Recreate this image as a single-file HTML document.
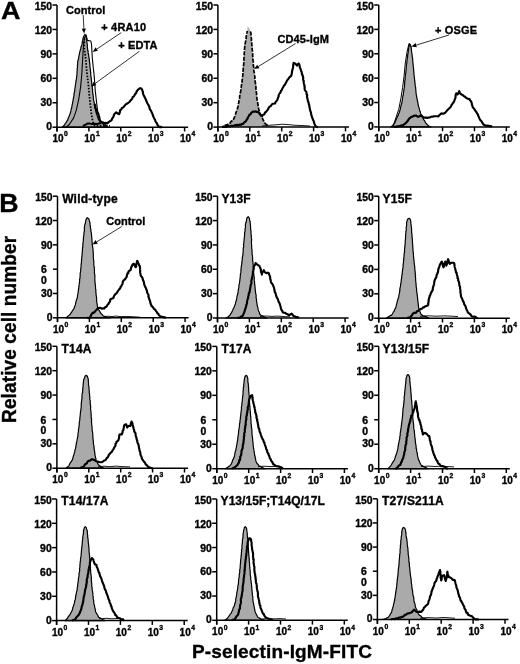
<!DOCTYPE html>
<html><head><meta charset="utf-8"><style>
html,body{margin:0;padding:0;background:#fff;}
body{width:520px;height:664px;overflow:hidden;}
svg{display:block;will-change:transform;}
text{font-family:"Liberation Sans",sans-serif;font-weight:bold;fill:#000;stroke:#000;stroke-width:0.35px;}
.t{font-size:10px;}
.s{font-size:6.8px;}
.lab{font-size:11px;}
.ttl{font-size:12px;letter-spacing:0.2px;}
</style></head><body>
<svg width="520" height="664" viewBox="0 0 520 664">
<polygon points="62.0,127.2 64.3,125.3 64.9,124.1 65.5,123.3 66.3,122.1 67.0,120.8 67.7,120.0 68.1,118.6 68.4,117.5 69.1,116.6 69.3,115.3 69.9,114.6 70.1,113.5 70.6,112.3 70.7,111.6 71.0,110.4 71.2,108.8 71.7,107.9 71.8,106.7 72.0,105.9 72.1,104.8 72.5,103.7 72.6,102.2 72.9,101.5 73.1,100.1 73.2,99.0 73.5,98.1 73.7,96.6 74.0,95.6 73.9,94.6 74.1,93.6 74.4,92.1 74.7,90.9 74.7,89.5 75.0,88.2 75.1,87.6 75.2,86.5 75.4,85.2 75.6,83.9 75.9,82.9 75.9,81.5 76.2,80.2 76.4,78.6 76.7,77.7 76.6,76.5 76.9,75.0 77.0,73.8 77.0,72.4 77.0,71.3 77.3,70.1 77.1,69.0 77.3,68.1 77.5,66.8 77.4,65.3 77.7,64.4 77.7,63.4 77.7,61.9 77.9,60.6 78.4,59.5 78.4,58.8 78.8,57.3 78.9,55.9 79.3,54.7 79.4,53.7 79.7,52.1 80.0,51.2 80.3,50.0 80.7,49.4 80.9,48.0 81.0,47.0 81.5,45.8 81.8,45.0 82.1,43.9 82.2,42.5 82.5,41.2 82.7,40.4 82.9,39.0 83.2,38.0 83.5,37.0 84.0,36.0 84.9,34.3 85.8,35.5 85.9,36.3 86.3,37.5 86.7,38.5 86.8,40.0 86.8,41.2 86.9,42.1 87.0,43.3 87.4,44.8 87.3,45.7 87.3,46.6 87.5,48.0 87.6,49.0 87.7,50.5 88.2,51.0 88.0,52.5 88.2,53.6 88.7,54.7 88.7,56.0 88.8,56.7 89.0,58.0 89.2,58.9 89.4,60.2 89.3,61.2 89.7,62.7 89.8,63.8 89.9,64.9 89.9,65.6 89.9,66.8 90.2,68.0 90.2,68.8 90.5,70.2 90.5,71.8 90.8,73.0 90.7,74.2 90.8,75.0 90.8,75.9 91.0,77.1 91.3,78.5 91.3,79.8 91.5,80.8 91.6,81.6 91.7,83.0 91.9,84.4 91.9,85.5 92.2,86.2 92.3,87.5 92.3,89.0 92.6,89.8 92.6,91.0 92.6,92.3 92.7,93.0 93.1,94.7 93.2,95.3 93.3,97.0 93.4,97.6 93.3,98.6 93.6,100.0 93.9,101.5 94.2,102.3 94.3,103.4 94.3,104.8 94.5,105.5 94.8,106.7 95.0,108.0 95.3,109.0 95.7,110.1 95.9,111.5 96.3,112.9 96.5,114.0 97.1,115.3 97.5,116.7 98.0,118.1 98.4,119.2 99.1,120.2 99.9,121.0 100.4,122.4 101.7,122.6 103.0,123.5 104.2,123.8 108.0,127.2" fill="#aaaaaa" stroke="#000" stroke-width="1.2" stroke-linejoin="round"/>
<polyline points="66.0,127.2 69.1,124.8 73.5,118.1 76.3,110.4 78.8,98.8 80.7,86.3 81.8,74.0 82.6,60.0 83.5,45.0 84.5,38.0 86.2,35.0 87.3,40.4 90.8,41.0 91.5,44.0 92.3,58.0 93.2,67.0 94.1,75.0 95.3,91.0 96.3,100.0 97.3,108.5 98.5,116.2 100.4,121.0 103.0,124.0 106.0,127.2" fill="none" stroke="#000" stroke-width="1.1" stroke-linejoin="round"/>
<polyline points="84.5,38.5 84.2,47.3 85.4,55.8 86.2,65.0 86.9,72.7 88.4,84.4 89.3,95.0 90.3,104.6 91.3,113.3 92.5,120.0 93.5,123.5 95.0,125.6 110.0,125.8" fill="none" stroke="#000" stroke-width="1.8" stroke-linejoin="round" stroke-dasharray="1.6,1.5"/>
<polyline points="83.0,126.2 84.2,125.3 85.6,124.8 86.7,124.0 87.8,123.4 88.8,123.5 90.0,123.6 91.3,123.9 92.6,123.8 93.7,124.2 95.0,123.8 96.3,123.9 97.8,123.7 99.0,123.6 100.3,123.0 101.5,122.5" fill="none" stroke="#000" stroke-width="2.0" stroke-linejoin="round"/>
<polyline points="94.5,104.0 95.1,105.2 95.4,106.7 95.4,108.1 96.1,108.9 96.2,110.1 96.5,111.6 97.2,111.8 97.6,112.9 98.4,114.0 98.8,115.5 99.3,117.1 99.4,117.8 99.5,119.5 100.0,120.6 101.1,121.7 101.5,122.2 103.1,122.4 104.2,123.2 105.6,122.9 107.1,123.3 108.3,122.5 109.4,121.4 110.4,121.0 111.6,120.2 112.0,118.9 112.3,118.4 113.1,117.3 113.6,116.2 114.2,114.3 115.0,113.5 116.2,112.3 117.2,113.2 118.1,113.8 119.2,114.2 119.7,112.4 120.0,111.9 120.0,110.3 121.2,109.6 121.8,108.2 122.6,107.7 123.5,107.3 124.5,105.7 125.2,105.1 126.2,104.0 127.8,103.3 128.7,102.5 129.4,102.0 130.6,100.4 131.2,99.9 132.2,98.8 132.7,97.1 133.8,96.4 134.4,95.5 135.3,93.8 135.9,93.3 136.4,92.1 137.5,90.3 138.2,89.5 139.7,88.4 140.8,88.2 142.1,89.5 142.4,90.7 143.0,92.0 142.9,92.9 143.3,94.4 143.8,95.6 144.2,96.2 144.7,97.3 145.3,98.6 146.0,99.9 146.4,101.2 146.8,102.0 147.2,102.9 147.7,103.8 148.5,105.1 149.0,106.4 149.4,106.8 149.6,108.7 150.2,109.6 150.7,110.3 151.3,111.3 151.6,112.3 152.3,113.6 152.6,114.3 152.9,115.5 153.5,116.9 153.9,117.8 154.3,118.6 155.1,119.8 155.5,121.5 156.0,122.3 157.0,123.2 157.5,125.1 158.1,125.8 159.8,127.1 160.8,126.9 162.0,127.2" fill="none" stroke="#000" stroke-width="2.15" stroke-linejoin="round"/>
<polygon points="222.0,127.1 224.6,125.7 225.7,125.1 226.9,124.6 228.2,124.3 229.2,124.0 230.0,123.5 230.9,122.1 231.4,121.3 232.2,120.2 233.0,119.6 233.8,118.8 234.2,117.4 234.6,116.2 235.1,115.1 235.4,113.9 235.9,112.9 236.4,112.0 236.9,110.9 237.3,109.6 237.7,108.6 237.7,107.2 237.9,106.5 238.3,105.2 238.6,103.5 238.7,103.0 239.0,101.7 239.1,100.1 239.5,99.3 239.6,98.1 239.9,97.2 240.1,95.8 240.2,94.7 240.1,93.3 240.4,92.0 240.7,90.9 240.8,90.0 241.0,88.9 241.0,87.7 241.3,86.5 241.6,85.5 241.7,84.0 241.7,82.9 241.9,81.7 242.1,80.0 242.2,79.2 242.5,77.8 242.8,76.8 242.7,75.4 242.9,74.2 242.9,73.2 242.9,71.9 243.0,70.4 243.1,69.6 243.1,68.2 243.4,67.0 243.4,65.5 243.6,64.7 243.6,63.5 243.7,62.2 243.7,60.9 243.8,60.0 244.1,58.9 244.0,57.0 244.1,56.1 244.3,55.2 244.2,53.8 244.5,52.5 244.4,51.4 244.5,50.2 244.4,49.7 244.6,48.4 244.7,47.1 244.9,46.2 245.2,44.7 245.1,43.7 245.4,42.3 245.5,41.4 245.7,40.1 246.0,39.1 246.1,38.1 246.4,36.6 246.3,36.0 246.7,34.8 246.8,33.6 247.0,32.1 247.2,31.0 247.4,30.2 247.5,28.7 247.6,27.5 247.9,26.5 248.8,28.0 249.4,28.9 249.9,30.2 250.2,31.5 250.5,32.4 251.0,33.6 251.0,34.7 251.3,35.8 251.4,37.2 251.5,38.2 251.5,39.5 251.4,40.5 251.6,41.6 251.7,42.6 251.8,43.9 251.7,44.7 251.8,46.3 252.0,47.1 252.2,48.1 252.1,49.7 252.2,50.6 252.4,51.6 252.5,52.8 252.5,53.6 252.8,54.8 252.7,56.1 253.0,57.6 252.8,58.4 252.9,59.3 253.1,60.7 253.0,61.7 253.2,62.8 253.5,64.1 253.4,65.4 253.5,66.3 253.5,67.4 253.5,68.3 253.7,69.7 253.8,71.4 254.2,72.4 254.3,73.9 254.6,75.0 254.6,76.0 254.8,77.2 255.1,78.8 254.9,79.9 255.3,80.4 255.3,82.2 255.3,83.1 255.7,84.1 255.8,85.6 255.8,86.5 255.8,88.0 255.9,88.5 256.2,90.0 256.3,91.4 256.4,92.4 256.5,93.4 256.7,94.3 256.8,95.6 256.7,97.0 256.9,98.1 257.0,99.0 257.3,100.5 257.3,101.3 257.7,102.7 257.7,103.7 257.9,105.0 258.2,106.0 258.5,107.6 258.6,108.4 259.0,109.8 259.2,110.5 259.8,112.2 259.9,112.9 260.4,114.2 261.0,115.3 261.5,116.4 262.3,117.8 262.7,118.8 263.1,119.8 263.8,121.0 264.3,122.4 265.0,123.4 266.2,124.4 267.2,124.9 268.4,125.7 269.5,126.1 270.6,126.1 271.9,125.8 273.2,125.9 274.0,126.1 275.3,126.2 278.0,127.1" fill="#aaaaaa" stroke="none" stroke-linejoin="round"/>
<polyline points="224.6,125.7 225.7,125.1 227.0,124.9 228.0,124.2 229.2,124.0 230.1,123.0 230.6,122.1 231.5,121.1 232.4,120.8 233.2,119.8 233.8,118.8 234.2,117.9 234.8,116.3 235.0,115.5 235.5,114.3 235.9,113.0 236.3,111.7 236.8,110.6 237.3,109.6 237.4,108.7 237.7,107.6 238.1,106.1 238.2,105.2 238.4,103.6 238.8,102.6 238.9,101.4 239.0,100.6 239.5,99.2 239.6,98.1 239.6,97.1 239.8,95.5 240.0,94.9 240.4,93.6 240.4,92.2 240.7,91.4 240.9,89.8 240.9,88.7 241.2,87.4 241.3,86.5 241.5,85.5 241.5,84.3 241.8,82.6 242.1,81.8 242.1,80.2 242.3,79.0 242.5,77.8 242.5,76.9 242.8,75.6 242.9,74.4 242.8,73.1 243.0,71.7 243.0,70.8 243.3,69.2 243.2,68.0 243.4,67.0 243.5,65.5 243.7,64.5 243.8,63.6 243.6,62.0 243.8,60.7 243.9,59.9 243.9,58.4 244.1,57.4 244.1,56.1 244.3,55.1 244.1,53.9 244.3,52.9 244.4,51.6 244.4,50.6 244.5,49.2 244.7,48.0 244.7,47.1 244.8,46.0 245.2,44.8 245.1,43.7 245.4,42.8 245.5,41.8 245.8,40.3 246.0,39.4 246.1,38.1 246.2,36.6 246.4,35.5 246.7,34.8 246.8,33.6 247.0,32.4 247.2,31.0" fill="none" stroke="#000" stroke-width="1.7" stroke-dasharray="4.2,1.3"/>
<polyline points="250.2,31.5 250.7,32.4 251.0,33.6 251.0,35.0 251.2,35.9 251.2,36.8 251.3,37.9 251.5,39.1 251.4,40.4 251.6,41.2 251.7,42.6 251.7,43.8 251.8,44.7 252.0,46.2 251.9,46.8 252.2,48.2 252.1,49.4 252.4,50.3 252.4,51.6 252.4,52.7 252.7,53.8 252.7,54.9 252.7,56.1 253.0,57.5 252.8,58.3 252.9,59.7 253.1,60.7 253.3,61.5 253.3,62.9 253.4,64.0 253.3,65.2 253.5,66.0 253.7,67.5 253.7,68.3 253.7,69.7 253.9,70.9 254.1,72.1 254.5,73.7 254.6,75.0 254.7,75.9 255.0,77.5 254.8,78.3 255.2,79.9 255.1,80.7 255.3,82.2 255.5,83.3 255.5,84.4 255.6,85.5 255.8,86.5 256.0,87.6 255.9,89.0 256.1,89.8 256.2,91.2 256.3,92.1 256.6,93.6 256.6,94.3 256.5,95.9 256.7,97.1 256.9,98.1 257.1,99.3 257.2,100.5 257.5,101.5 257.7,102.6 257.8,103.8 258.1,104.7 258.1,106.1 258.5,107.4 258.6,108.4 258.9,109.5 259.2,110.7 259.7,111.7 260.0,112.8 260.4,114.2 260.8,115.4 261.4,116.6 262.2,117.8 262.7,118.8 263.1,120.0 263.8,121.1 264.3,122.5 265.0,123.4 266.3,124.4 267.4,125.1 268.4,125.7" fill="none" stroke="#000" stroke-width="1.7" stroke-dasharray="4.2,1.3"/>
<polyline points="262.0,126.0 270.0,125.2 276.0,124.8 282.0,124.2 288.0,124.6 294.0,125.2 303.0,125.6 310.0,126.0" fill="none" stroke="#000" stroke-width="0.9" stroke-linejoin="round"/>
<polyline points="222.0,127.1 223.5,126.6 224.6,126.7 225.4,127.0 227.0,126.7 227.9,125.7 228.9,126.3 230.2,126.3 231.5,125.7 232.5,126.0 234.1,125.5 234.9,125.1 236.1,125.4 237.2,124.8 238.5,125.2 239.9,124.5 241.0,124.8 242.1,123.9 243.1,124.0 244.0,122.6 244.7,122.1 245.7,121.4 246.5,120.0 247.3,119.0 247.9,117.5 248.2,117.0 248.7,116.2 249.4,114.8 250.4,114.4 251.5,112.7 252.3,111.9 253.3,111.6 254.4,111.8 255.8,111.3 256.8,112.0 258.1,111.9 259.2,113.2 259.8,114.2 261.0,115.2 262.1,116.0 263.0,114.9 264.4,114.2 265.1,112.5 266.1,111.9 266.8,110.9 267.9,109.6 268.4,108.4 269.4,106.8 270.7,106.1 271.2,105.5 272.2,104.0 273.1,103.8 275.0,103.5 275.7,101.9 276.6,100.9 277.3,100.1 277.5,99.1 278.0,98.0 278.6,96.3 278.6,95.4 279.2,94.1 279.5,93.4 280.4,92.7 280.9,91.0 281.8,90.0 282.4,88.3 282.8,87.8 283.4,86.8 284.0,85.5 284.9,84.8 285.8,83.0 286.3,82.1 287.1,80.5 287.6,79.7 288.5,78.7 289.4,77.4 290.0,76.5 290.5,76.6 291.4,75.3 291.7,73.8 291.9,73.1 291.9,72.3 292.2,70.6 292.5,69.7 292.9,68.1 293.0,67.7 293.2,65.8 293.2,65.4 293.4,64.3 293.6,62.9 295.3,63.5 295.9,64.3 297.0,65.7 297.6,64.3 298.7,63.5 299.3,64.6 299.7,66.2 299.8,67.5 300.4,68.5 300.7,69.7 301.2,71.1 301.6,71.6 301.8,73.5 302.1,74.6 302.7,75.3 302.7,76.2 303.3,77.8 303.1,79.0 303.2,80.2 303.7,80.7 303.7,82.2 303.8,83.2 304.2,84.5 304.4,85.4 304.5,86.8 304.7,87.7 304.6,88.9 304.9,90.0 305.5,90.8 306.3,91.8 306.6,93.4 306.5,94.1 307.2,95.2 307.0,96.6 307.1,97.3 307.6,99.2 307.7,100.1 308.1,101.5 308.3,101.9 308.7,103.3 309.0,105.0 309.3,105.3 309.4,106.9 309.9,108.5 309.8,108.7 310.0,109.9 310.7,111.8 311.0,112.7 311.1,113.7 311.3,115.0 311.6,115.5 312.0,117.3 312.4,118.0 312.8,119.3 313.1,119.9 313.8,121.3 314.0,122.5 314.5,123.8 315.1,125.5 315.6,126.1 316.9,127.0 318.0,127.1" fill="none" stroke="#000" stroke-width="2.15" stroke-linejoin="round"/>
<polygon points="391.0,126.9 393.4,125.4 393.9,124.0 394.6,123.2 395.1,122.0 395.5,121.0 396.1,119.9 396.4,119.0 397.0,117.8 397.5,116.1 398.2,115.5 398.5,113.8 399.1,113.0 399.5,111.8 399.8,110.5 400.2,109.5 400.5,108.4 400.5,107.3 400.8,106.5 401.2,105.0 401.5,103.9 401.8,103.3 401.9,102.2 402.2,101.0 402.3,99.8 402.4,99.0 402.6,97.9 402.8,96.3 403.1,95.6 403.4,94.1 403.4,92.9 403.7,92.0 403.8,91.0 403.9,89.6 404.2,88.3 404.3,87.4 404.5,86.4 404.5,84.9 404.7,84.2 404.7,82.6 404.7,82.0 404.9,80.4 405.2,79.7 405.0,78.2 405.2,77.1 405.3,76.2 405.4,74.9 405.6,73.9 405.8,73.1 406.0,71.4 405.9,70.2 406.2,69.7 406.2,68.4 406.3,66.9 406.3,65.7 406.4,64.8 406.8,63.6 406.8,62.7 406.9,61.5 407.0,60.3 407.2,58.9 407.4,57.9 407.5,57.0 407.7,55.6 407.7,54.3 408.1,53.3 408.2,52.2 408.3,50.8 408.5,49.8 408.6,48.5 408.9,47.1 409.0,46.0 409.7,44.1 410.4,45.0 411.0,46.8 411.1,47.7 411.4,49.4 411.4,50.5 411.6,51.5 411.7,52.9 412.1,54.1 412.1,55.0 412.2,56.6 412.4,57.6 412.7,58.7 412.6,59.5 412.8,60.8 412.8,62.4 413.0,63.0 413.1,64.4 413.2,65.5 413.3,66.9 413.5,67.7 413.5,68.7 413.7,70.0 413.7,71.2 414.0,72.1 413.8,73.3 414.0,74.4 414.1,75.4 414.4,76.8 414.3,77.8 414.6,78.9 414.6,80.5 414.9,81.1 414.8,82.4 415.1,83.3 415.1,84.7 415.3,86.0 415.4,86.9 415.7,87.8 415.7,89.0 415.9,90.5 415.9,91.3 416.0,92.5 416.2,93.8 416.3,94.9 416.5,95.7 416.7,96.9 416.8,98.0 417.2,98.9 417.3,100.3 417.6,101.5 417.9,102.8 418.0,104.1 418.4,105.5 418.5,106.4 418.9,107.2 419.3,109.0 419.6,109.5 419.7,111.0 420.3,111.7 420.5,113.2 421.0,114.4 421.5,115.1 422.2,116.3 422.5,117.4 423.2,118.6 424.0,120.1 424.7,120.7 425.3,122.2 425.9,123.3 427.0,124.3 427.9,125.3 428.7,126.0 431.0,126.9" fill="#aaaaaa" stroke="#000" stroke-width="1.2" stroke-linejoin="round"/>
<polyline points="391.0,126.9 394.0,123.5 396.1,117.2 398.8,109.1 400.9,98.3 402.6,87.4 404.0,76.6 405.3,63.0 407.0,52.2 409.0,43.4 410.2,44.5 411.0,46.8" fill="none" stroke="#000" stroke-width="1.0" stroke-linejoin="round"/>
<polyline points="394.0,126.9 396.1,126.7 397.3,126.2 398.5,126.3 399.7,126.0 400.5,125.9 401.6,125.3 402.9,125.4 403.6,124.7 404.5,124.0 405.6,123.3 406.5,122.2 407.6,121.1 408.3,119.9 409.4,118.4 410.1,117.9 411.0,117.0 412.5,116.6 413.7,115.9 415.1,115.6 416.5,115.6 417.3,116.6 418.5,116.6 419.6,116.3 420.5,115.6 421.9,115.9 423.2,117.2 424.8,117.6 426.2,117.5 427.3,117.9 428.7,117.5 429.8,117.5 431.4,116.6 432.7,116.7 434.0,116.2 435.0,116.3 436.2,116.2 437.5,116.3 438.5,116.3 439.4,115.0 440.4,114.3 441.3,113.4 442.6,113.8 444.2,113.4 445.3,112.6 446.5,111.1 447.5,110.0 448.8,108.8 449.8,107.9 450.5,107.1 451.1,106.0 451.8,104.6 452.7,103.4 453.5,102.5 454.2,101.3 454.8,99.3 455.2,98.5 455.5,97.6 455.6,95.4 455.9,94.1 456.3,93.3 457.5,94.4 458.1,93.7 458.8,92.3 459.2,91.0 459.9,92.9 460.4,93.8 461.6,94.5 462.7,95.0 463.9,96.1 465.0,96.7 466.0,97.8 467.3,98.5 468.4,98.9 469.6,99.0 469.9,100.3 470.5,100.6 471.3,101.9 471.8,103.4 471.8,104.4 472.4,105.7 472.5,106.5 473.1,107.7 474.0,108.6 474.8,110.0 475.5,110.9 476.6,112.4 477.1,113.4 477.7,114.1 478.0,115.2 478.8,116.9 479.4,118.4 480.0,119.7 480.6,120.4 481.3,121.0 482.4,122.8 482.9,123.8 483.8,124.9 484.5,124.9 485.7,125.6 486.7,125.9 487.8,125.6 489.2,126.1 490.7,126.0 492.0,126.9" fill="none" stroke="#000" stroke-width="2.15" stroke-linejoin="round"/>
<polygon points="66.0,317.8 67.0,317.0 68.2,315.9 69.2,315.1 70.1,314.6 70.6,313.3 71.4,312.6 72.0,311.5 72.9,310.0 73.6,309.3 74.2,308.1 74.4,307.1 74.9,305.9 75.3,304.7 75.7,303.4 75.7,302.6 76.2,300.9 76.4,300.3 76.9,298.8 77.3,297.6 77.5,296.7 77.5,295.5 77.8,294.3 78.0,293.2 78.2,291.8 78.3,290.8 78.4,289.8 78.7,288.5 78.8,287.7 78.8,286.3 79.2,284.7 79.3,284.0 79.3,282.6 79.6,281.9 79.6,280.4 79.6,279.3 80.0,278.1 80.0,276.9 80.2,275.9 80.1,274.9 80.2,273.2 80.4,272.3 80.6,271.4 80.7,269.8 80.8,269.1 80.8,267.8 81.0,266.9 81.2,265.6 81.0,264.2 81.4,263.2 81.5,261.8 81.5,260.9 81.5,260.0 81.8,258.7 81.7,257.4 82.0,256.1 82.0,255.3 82.2,253.7 82.1,253.0 82.4,251.7 82.4,250.8 82.5,249.4 82.5,248.0 82.8,246.8 82.8,245.8 82.9,244.7 82.8,243.4 83.1,242.8 83.2,241.3 83.4,239.9 83.3,239.2 83.5,237.9 83.5,236.7 83.9,235.2 83.9,234.6 83.9,233.2 84.1,232.2 84.3,231.1 84.5,229.9 84.3,228.3 84.5,227.1 84.5,225.9 84.8,225.0 85.2,223.8 85.5,222.6 85.5,221.7 85.9,220.3 86.2,219.0 87.2,217.7 88.4,218.5 89.0,219.3 89.3,220.5 89.7,221.8 90.0,223.0 90.0,224.2 90.1,225.2 90.5,226.7 90.3,227.3 90.6,228.5 91.0,230.1 90.8,231.2 91.2,232.3 91.3,233.2 91.6,234.5 91.4,235.3 91.8,236.9 91.7,238.1 92.0,239.2 91.9,240.0 92.0,241.3 92.1,242.6 92.2,243.7 92.3,245.1 92.6,246.2 92.6,247.5 92.9,248.1 93.0,249.3 93.1,250.9 93.0,251.4 93.3,252.5 93.3,254.1 93.3,255.0 93.3,256.1 93.4,257.5 93.4,258.5 93.5,259.3 93.7,260.8 93.9,261.5 93.8,262.8 93.8,263.8 93.9,265.4 94.1,266.1 94.3,267.3 94.4,268.3 94.3,269.7 94.5,270.5 94.4,272.1 94.5,273.1 94.5,274.1 94.9,275.3 94.9,276.8 94.8,277.3 94.8,279.0 94.9,280.0 94.9,281.3 95.1,282.4 95.0,283.0 95.3,284.4 95.4,285.8 95.5,286.5 95.5,288.2 95.6,289.1 95.9,290.0 95.8,291.6 95.9,292.3 96.1,293.8 96.1,294.8 96.3,296.1 96.5,297.3 96.6,298.5 96.5,299.2 96.7,300.7 96.7,301.8 96.9,302.9 97.2,304.0 97.2,304.9 97.4,306.1 97.9,307.6 98.2,308.8 98.7,309.8 99.4,310.6 99.8,311.7 100.5,312.6 101.1,313.7 101.9,314.2 102.8,315.3 103.6,316.2 105.1,316.4 106.5,317.1 110.0,317.8" fill="#aaaaaa" stroke="#000" stroke-width="1.2" stroke-linejoin="round"/>
<polyline points="104.0,316.8 108.0,316.2 112.0,316.6 116.0,316.0 120.0,316.6 126.0,316.4 134.0,316.8 140.0,317.2" fill="none" stroke="#000" stroke-width="0.9" stroke-linejoin="round"/>
<polyline points="87.0,317.8 88.7,318.0 89.9,317.6 90.6,316.1 91.3,314.9 91.8,313.7 93.0,312.6 93.8,312.9 94.8,311.8 95.5,310.9 96.0,310.1 96.8,309.7 97.7,308.3 99.7,307.8 100.7,308.0 102.1,308.8 103.5,308.3 104.6,308.3 105.2,307.0 106.0,306.9 107.0,305.9 107.7,304.4 108.3,304.1 109.0,303.0 109.3,302.2 110.1,301.4 110.2,299.5 110.9,299.0 112.2,298.5 113.4,298.0 113.8,296.5 114.5,295.3 115.3,294.1 116.5,293.3 117.3,292.2 118.0,290.8 118.4,290.5 119.2,289.2 120.1,288.6 120.4,287.1 121.1,286.6 121.7,285.3 122.4,284.0 122.6,283.2 123.0,281.3 123.6,280.4 124.9,279.4 125.6,278.5 126.3,277.5 126.8,276.2 127.1,274.6 127.6,273.1 128.3,273.1 128.5,271.6 129.5,270.6 130.5,270.2 130.8,269.2 131.0,268.0 131.6,266.8 132.0,265.8 132.8,264.3 133.9,263.8 134.7,265.4 135.2,266.5 135.8,267.2 136.3,266.3 136.1,265.1 136.5,263.6 136.8,262.4 137.2,260.9 137.9,261.9 138.1,263.0 138.7,263.9 139.1,265.3 139.7,265.8 139.9,266.8 140.0,267.8 140.1,269.9 140.2,270.4 140.1,271.9 140.2,272.7 140.5,274.1 140.7,275.5 141.2,276.3 142.0,277.0 142.6,278.5 143.0,280.0 143.3,280.8 143.7,281.6 144.0,283.0 144.2,284.3 144.6,285.3 144.9,286.3 145.6,287.4 146.1,288.7 146.4,289.5 147.0,291.2 147.2,292.7 147.7,293.5 148.3,294.4 148.5,295.5 148.4,296.5 149.0,298.0 149.3,299.5 149.6,299.8 150.2,301.3 150.2,302.1 150.8,304.1 151.0,304.4 151.4,305.9 152.3,306.5 153.2,307.6 153.7,308.6 154.7,309.3 155.3,309.8 156.0,311.1 156.9,312.1 157.3,313.2 158.3,313.7 159.0,315.4 160.2,316.2 161.7,316.9 163.2,317.1 164.9,317.4 166.0,317.8" fill="none" stroke="#000" stroke-width="2.15" stroke-linejoin="round"/>
<polygon points="226.0,318.0 228.3,316.8 229.1,315.8 230.1,314.9 230.7,313.7 231.6,312.6 232.0,311.5 232.5,310.7 233.0,309.4 233.4,308.4 234.0,307.7 234.4,306.4 234.8,305.2 235.3,304.4 235.6,303.0 235.7,302.1 236.0,301.2 236.5,300.0 236.5,298.9 237.0,297.4 237.0,295.9 237.4,295.2 237.7,294.3 237.9,292.8 238.2,291.7 238.2,290.6 238.4,289.6 238.6,288.3 238.9,287.2 238.9,286.3 239.0,284.8 239.3,283.9 239.5,282.9 239.6,282.0 239.8,280.6 239.9,279.5 240.0,278.7 240.3,277.2 240.2,275.8 240.5,275.3 240.4,273.8 240.8,272.9 241.0,271.7 240.9,270.6 241.0,268.9 241.2,268.0 241.2,266.7 241.5,265.8 241.6,264.6 241.9,263.4 241.7,262.5 242.1,261.2 242.2,260.1 242.2,258.8 242.4,258.2 242.4,257.0 242.7,255.8 242.9,254.5 243.1,253.6 243.0,252.6 243.2,251.4 243.2,250.0 243.2,249.4 243.3,247.8 243.7,247.0 243.7,245.9 243.5,244.5 243.7,243.8 243.8,242.7 243.9,241.2 244.2,240.1 244.1,239.3 244.2,238.1 244.5,236.7 244.6,236.0 244.5,234.8 244.7,233.6 244.6,232.3 245.0,231.6 245.1,230.0 245.0,229.2 245.4,227.9 245.5,226.7 245.4,225.3 245.5,224.5 245.7,223.2 246.2,221.8 246.5,220.6 246.6,219.1 247.0,218.0 248.2,216.6 249.3,218.0 249.5,219.1 249.8,220.7 250.2,221.6 250.1,222.7 250.3,223.8 250.3,224.8 250.6,225.7 250.5,227.0 250.6,228.0 250.6,229.1 250.8,230.5 251.0,231.3 251.0,232.3 251.0,233.9 251.2,234.8 251.4,235.9 251.2,237.2 251.4,238.0 251.6,239.1 251.6,240.1 251.4,241.4 251.4,242.5 251.5,243.8 251.7,245.0 251.6,245.8 251.7,247.0 251.7,248.3 251.9,249.2 252.0,250.1 252.0,251.4 252.1,252.4 252.1,253.6 252.1,254.6 252.5,255.6 252.5,256.8 252.6,257.7 252.6,259.0 252.6,260.1 252.7,261.2 253.0,262.1 253.0,263.3 253.1,264.6 253.3,266.0 253.4,267.2 253.3,267.8 253.5,268.9 253.5,270.5 253.7,271.5 253.6,272.9 253.8,274.1 253.8,275.1 254.0,276.2 254.3,277.0 254.3,278.6 254.2,279.2 254.3,280.4 254.5,281.6 254.6,282.5 254.6,284.0 254.9,285.3 254.9,286.3 255.1,287.2 255.0,288.3 255.4,289.7 255.2,290.4 255.5,291.9 255.6,292.8 255.7,293.6 256.0,294.7 256.2,295.9 256.0,297.4 256.3,298.4 256.6,299.6 256.4,300.3 256.7,301.9 256.9,303.0 257.1,304.0 257.1,305.0 257.3,306.0 257.7,306.9 258.0,308.3 258.2,309.9 258.6,310.9 259.2,312.1 259.5,312.9 259.8,314.3 260.9,315.3 261.8,315.6 262.8,315.9 263.9,316.8 267.0,318.0" fill="#aaaaaa" stroke="#000" stroke-width="1.2" stroke-linejoin="round"/>
<polyline points="260.0,316.5 266.0,316.0 272.0,316.4 278.0,316.1 284.0,316.6 290.0,316.9" fill="none" stroke="#000" stroke-width="0.9" stroke-linejoin="round"/>
<polyline points="237.0,318.0 238.3,317.7 239.9,317.6 240.8,316.6 242.2,316.2 243.2,315.1 243.4,313.8 243.9,313.0 244.2,312.4 244.8,310.7 245.0,309.4 245.5,308.6 245.7,307.7 246.1,306.6 246.3,305.1 246.5,304.5 247.0,303.5 247.0,301.7 247.2,300.9 247.5,299.4 248.0,298.5 248.2,297.7 248.2,296.5 248.7,295.2 248.8,294.1 248.9,292.6 249.6,292.5 249.8,290.3 250.0,290.2 250.2,288.1 250.3,287.3 250.7,286.2 250.6,285.1 251.1,284.4 251.5,283.0 251.3,281.9 251.4,280.4 251.9,279.0 251.8,278.8 252.2,277.0 252.3,276.2 252.7,275.5 252.8,273.6 253.0,273.3 252.9,271.6 253.1,271.1 253.5,269.5 253.8,268.4 253.6,267.1 254.0,266.3 254.6,265.3 255.2,264.5 255.6,263.0 257.0,264.3 258.4,265.5 259.4,265.8 259.9,267.1 260.3,268.0 260.9,269.7 260.9,271.0 261.2,272.4 261.8,273.3 261.8,274.6 262.0,273.0 262.6,272.3 263.0,271.5 263.8,270.2 264.7,271.8 265.3,272.6 266.4,273.1 267.7,272.7 268.7,273.1 269.0,274.2 269.4,275.1 270.0,276.6 270.2,277.5 270.2,279.2 270.6,279.7 270.8,281.2 271.1,282.4 271.5,283.0 272.4,284.1 273.1,285.3 273.7,287.0 274.1,288.2 274.3,289.5 274.6,290.2 274.7,291.8 275.4,292.8 275.7,293.7 276.0,295.1 276.5,296.8 276.9,297.7 277.7,298.6 278.0,300.0 278.3,300.7 279.0,302.6 279.6,303.2 280.0,304.9 280.4,306.0 280.7,307.3 281.0,308.6 281.4,309.8 281.9,310.3 282.8,312.2 283.4,312.7 285.0,312.8 286.3,313.7 287.5,314.2 289.2,315.2 290.3,314.5 291.7,313.7 292.7,314.9 293.6,316.2 294.9,316.3 296.1,317.1 297.6,317.1 299.0,318.0" fill="none" stroke="#000" stroke-width="2.15" stroke-linejoin="round"/>
<polygon points="386.0,318.2 388.3,316.8 389.3,316.3 390.4,315.6 391.6,315.1 392.3,314.0 392.9,313.0 393.3,312.1 394.1,311.2 394.7,309.5 395.1,308.7 395.8,307.7 396.1,306.9 396.2,305.7 396.5,304.6 396.9,303.1 397.2,301.8 397.4,300.8 397.7,300.1 398.0,299.1 398.3,298.0 398.7,296.9 398.9,295.3 399.1,294.4 399.4,293.2 399.6,292.3 399.6,290.8 400.0,290.2 399.8,289.1 400.0,287.9 400.4,286.7 400.6,285.3 400.6,284.6 400.8,283.2 401.1,282.5 401.2,281.2 401.2,279.8 401.6,278.7 401.6,277.7 401.8,276.6 401.8,275.6 402.1,274.8 402.3,273.6 402.2,272.6 402.4,271.1 402.7,270.1 402.6,269.2 402.9,267.9 403.1,266.6 403.1,265.8 403.1,264.6 403.3,263.7 403.5,262.7 403.5,261.0 403.8,260.0 403.6,259.2 403.8,257.8 404.0,256.9 404.0,255.7 404.2,254.4 404.1,253.5 404.6,252.5 404.5,251.4 404.5,250.0 404.6,249.3 404.7,247.9 404.8,246.8 405.1,245.9 404.8,245.1 405.2,243.7 405.2,242.8 405.3,241.5 405.2,240.2 405.5,239.4 405.5,238.4 405.6,236.9 405.6,236.1 405.7,234.8 405.7,233.8 405.9,232.6 405.9,231.2 406.3,230.3 406.2,229.3 406.2,228.0 406.3,227.0 406.6,225.7 406.6,224.9 406.6,223.8 406.6,222.5 406.9,221.6 407.3,220.2 407.8,219.0 409.0,218.3 410.0,219.0 410.7,220.8 410.8,222.1 410.9,223.4 411.1,224.6 411.0,225.2 411.4,226.7 411.4,227.7 411.6,228.9 411.6,229.8 411.6,231.6 411.6,232.3 411.8,233.4 412.0,234.8 412.0,236.0 412.0,236.9 412.3,238.2 412.2,239.3 412.5,240.5 412.3,241.5 412.6,242.8 412.5,243.5 412.7,244.5 412.8,246.1 412.7,247.3 413.0,248.0 412.9,249.3 413.0,250.4 413.1,251.4 413.2,252.2 413.4,253.3 413.4,254.6 413.5,255.9 413.5,256.9 413.8,258.3 413.7,259.4 414.1,260.3 414.0,261.2 414.1,262.2 414.2,263.7 414.4,264.8 414.6,265.7 414.7,266.8 414.8,267.9 414.8,269.1 414.9,270.3 415.2,271.4 415.1,272.5 415.4,273.6 415.2,274.5 415.6,275.7 415.3,276.5 415.6,277.8 415.6,279.2 415.7,280.4 415.7,281.4 415.8,282.0 416.0,283.1 416.1,284.5 416.1,285.6 416.3,287.0 416.3,287.6 416.7,289.1 416.5,289.8 416.7,291.3 416.9,292.6 417.0,293.4 417.1,294.7 417.4,295.4 417.4,296.4 417.5,297.5 417.7,298.8 417.7,299.7 417.8,301.1 418.1,302.2 418.2,303.8 418.2,304.4 418.4,305.6 418.5,306.8 418.8,308.3 418.9,309.3 419.5,310.2 419.8,311.2 420.3,312.2 420.6,313.5 421.4,314.6 422.4,315.3 423.1,316.0 424.1,316.1 425.4,316.5 426.4,316.8 429.0,318.2" fill="#aaaaaa" stroke="#000" stroke-width="1.2" stroke-linejoin="round"/>
<polyline points="420.0,316.3 428.0,315.8 436.0,316.2 444.0,315.9 452.0,316.2 458.0,316.6" fill="none" stroke="#000" stroke-width="0.9" stroke-linejoin="round"/>
<polyline points="407.0,318.2 408.5,317.5 409.8,317.6 410.6,316.7 411.7,315.6 412.5,314.2 413.1,313.5 414.3,312.8 414.9,312.9 416.4,312.4 416.8,311.3 418.1,311.0 419.4,309.9 420.4,309.2 421.4,308.7 422.3,308.5 423.0,307.4 423.9,307.4 425.0,306.5 426.7,305.8 427.9,305.4 428.3,304.5 428.1,303.6 428.7,301.6 428.5,301.0 428.8,299.6 429.0,298.3 429.7,296.7 429.6,296.1 430.4,294.8 430.8,293.4 431.3,292.3 432.0,291.2 432.5,290.4 432.9,288.9 432.8,288.1 433.2,286.8 433.4,286.2 434.0,284.3 434.1,283.9 434.2,282.3 434.5,280.9 434.9,279.7 435.6,278.3 436.1,277.6 436.5,276.5 436.5,275.2 437.2,274.4 437.4,273.1 438.0,272.1 438.1,271.2 438.3,269.6 438.6,268.3 439.3,267.2 439.4,266.1 439.9,264.8 440.4,263.7 440.9,263.2 441.7,261.5 442.3,262.8 442.5,263.6 442.6,264.8 442.9,265.8 443.5,267.3 444.0,266.5 443.9,265.4 444.4,264.0 444.9,262.8 445.2,261.5 445.8,262.7 446.1,263.7 446.3,265.6 446.6,264.9 447.2,263.6 447.3,262.1 447.4,261.6 447.7,260.5 448.1,259.2 448.6,260.4 448.9,261.7 449.4,262.8 449.8,263.8 451.0,262.9 452.1,262.7 453.8,262.7 454.3,263.6 454.5,265.0 454.6,266.2 454.7,267.0 455.2,268.5 455.5,270.1 455.8,270.8 456.0,272.3 456.6,272.7 456.7,274.2 457.1,275.3 457.6,276.9 457.4,278.1 458.2,278.7 458.1,280.3 458.5,280.8 459.0,282.3 459.1,283.0 459.4,284.9 459.4,285.7 460.1,286.8 460.0,288.3 460.2,289.2 460.5,290.3 460.3,291.8 460.6,292.9 460.7,293.9 460.9,294.8 460.9,296.0 461.3,297.3 461.9,298.1 462.3,299.1 462.9,301.0 463.6,301.9 463.9,302.9 464.3,304.6 465.2,305.5 465.4,306.2 465.9,307.7 466.4,309.1 466.6,309.6 467.3,310.8 467.7,312.1 468.3,312.9 469.5,313.6 470.6,314.6 471.7,316.3 473.0,316.8 474.4,316.6 475.7,316.9 476.7,318.0 478.0,318.2" fill="none" stroke="#000" stroke-width="2.15" stroke-linejoin="round"/>
<polygon points="66.0,468.2 68.3,466.3 69.0,465.6 69.7,464.1 70.1,463.0 70.9,462.2 71.6,461.0 72.3,459.9 72.7,459.1 73.0,457.4 73.2,456.6 73.5,455.7 74.0,454.4 74.2,453.3 74.6,452.2 74.9,451.2 74.9,449.9 75.4,448.9 75.6,447.9 75.9,446.8 76.0,445.2 76.4,444.0 76.3,442.8 76.7,442.2 77.0,440.5 77.1,439.8 77.4,438.2 77.6,437.3 77.8,436.2 78.0,435.4 77.9,434.2 78.2,432.7 78.5,431.3 78.4,430.4 78.5,429.3 78.8,428.6 78.9,427.2 79.0,425.7 79.3,425.2 79.2,424.0 79.3,422.4 79.5,421.6 79.7,420.4 79.8,419.2 79.9,418.2 79.9,417.2 80.2,416.2 80.2,414.4 80.4,413.7 80.4,412.5 80.7,411.2 80.8,410.1 80.9,409.3 81.1,408.0 81.2,406.8 81.2,405.4 81.3,404.6 81.2,403.6 81.4,402.7 81.5,401.4 81.7,400.5 81.8,399.3 82.0,398.1 81.9,396.8 82.0,396.0 82.1,395.0 82.2,393.3 82.6,392.7 82.6,391.3 82.6,390.3 82.9,389.0 82.7,388.2 83.0,386.7 83.2,385.5 83.1,384.6 83.3,383.7 83.3,382.6 83.5,381.7 83.6,380.5 83.8,379.2 84.6,377.9 85.0,376.2 86.1,375.3 87.2,376.0 87.5,377.1 88.1,378.4 88.3,379.5 88.3,380.6 88.4,381.7 88.5,383.3 88.5,384.5 88.6,385.8 89.0,387.0 89.0,388.2 89.0,389.0 89.2,390.3 89.3,391.6 89.2,392.9 89.6,393.7 89.6,394.9 89.5,395.7 89.9,396.9 89.8,398.4 89.8,399.6 90.2,400.5 90.3,401.5 90.1,402.8 90.3,403.7 90.5,404.8 90.5,406.1 90.7,407.0 90.5,408.3 90.6,409.6 90.9,410.8 90.9,412.0 91.0,412.7 91.1,413.9 91.2,415.1 91.2,416.4 91.2,417.8 91.5,418.6 91.6,419.9 91.5,421.4 91.5,422.1 91.7,423.5 91.7,424.9 91.9,425.7 92.0,426.5 92.1,427.7 92.1,429.0 92.2,429.9 92.2,431.0 92.6,432.1 92.7,433.4 92.8,434.2 92.8,435.6 92.9,436.7 92.9,437.8 93.1,438.8 93.1,439.8 93.3,440.9 93.4,442.4 93.4,443.8 93.6,444.7 94.0,445.9 93.8,447.1 94.2,447.9 94.1,449.6 94.4,450.4 94.7,451.7 94.7,453.0 95.0,454.2 95.0,455.4 95.4,456.6 95.5,457.5 95.9,458.5 96.0,459.9 96.5,461.2 97.1,462.2 97.7,463.3 98.4,464.7 99.6,465.4 100.6,466.6 101.6,467.1 104.0,468.2" fill="#aaaaaa" stroke="#000" stroke-width="1.2" stroke-linejoin="round"/>
<polyline points="98.0,466.8 104.0,466.2 110.0,466.7 116.0,466.1 122.0,466.6 130.0,466.9" fill="none" stroke="#000" stroke-width="0.9" stroke-linejoin="round"/>
<polyline points="80.0,468.2 81.3,467.6 82.6,467.1 83.6,466.6 84.2,465.8 85.0,464.4 85.7,463.9 86.7,463.5 87.4,461.9 87.9,461.3 88.9,460.7 90.1,460.7 90.8,459.9 92.1,459.1 93.5,459.9 94.4,459.9 95.6,460.9 96.7,461.3 97.6,461.5 99.2,462.0 100.8,462.3 102.0,462.1 102.8,461.6 103.9,460.7 105.0,460.3 105.7,459.9 106.2,459.0 107.1,457.6 107.9,457.2 108.6,455.5 109.0,454.5 109.8,453.9 110.5,452.8 111.8,451.8 112.4,450.7 113.2,449.7 114.0,448.1 114.5,447.0 115.0,446.3 115.5,445.4 115.5,443.7 116.4,442.9 116.6,441.7 118.2,440.7 118.6,439.2 119.0,438.5 119.2,436.3 119.3,435.0 119.8,434.3 121.9,434.3 122.2,433.6 122.5,432.3 122.7,430.9 123.4,429.9 123.5,429.0 123.8,427.7 124.1,425.7 124.6,424.8 126.2,424.3 126.5,425.6 127.0,426.6 127.2,427.5 128.1,426.3 128.8,425.9 130.4,425.9 130.9,424.3 130.8,423.4 131.1,423.2 131.5,421.6 132.1,422.4 132.5,423.9 132.7,424.8 133.0,425.9 133.4,427.7 133.6,428.9 134.1,429.6 134.2,431.1 134.5,431.9 135.3,432.7 135.6,434.2 135.7,435.4 135.9,436.4 136.4,437.5 136.7,439.6 137.2,440.3 137.3,441.7 137.7,443.2 138.0,443.4 138.5,444.8 138.7,445.8 138.9,447.0 139.1,448.4 139.5,449.5 139.6,451.1 140.2,451.8 140.3,452.7 140.4,454.4 140.9,455.7 141.4,456.5 141.8,458.0 141.9,458.9 142.6,459.7 143.1,460.4 144.1,462.0 144.6,462.1 145.2,463.4 145.9,464.6 147.1,465.4 147.9,466.6 149.1,467.3 150.5,467.7 151.6,468.2 153.0,468.2" fill="none" stroke="#000" stroke-width="2.15" stroke-linejoin="round"/>
<polygon points="225.0,468.7 227.5,467.5 228.5,466.6 229.7,466.0 230.7,464.7 231.3,463.8 231.9,462.4 232.3,461.5 232.6,460.0 233.4,459.1 233.7,458.1 234.3,456.8 234.6,455.4 234.7,454.8 234.9,453.5 235.1,452.1 235.5,450.9 235.9,450.2 236.0,448.5 236.2,447.9 236.5,446.3 236.7,445.0 237.0,444.1 237.1,442.9 237.2,442.2 237.6,440.5 237.7,439.6 237.8,438.6 237.8,437.2 238.0,436.4 238.3,435.1 238.3,434.1 238.6,432.7 238.6,431.7 238.7,430.6 238.8,429.6 239.1,428.3 239.3,427.4 239.5,425.9 239.4,424.8 239.7,423.5 239.8,422.8 240.0,421.5 240.0,420.1 240.3,419.4 240.4,418.2 240.4,417.2 240.7,416.2 240.7,414.6 240.8,413.8 241.0,412.5 241.2,411.1 241.2,410.3 241.5,409.2 241.4,407.7 241.5,406.5 241.8,405.7 241.8,404.7 241.9,403.3 242.1,402.1 242.3,401.3 242.3,399.8 242.4,399.0 242.6,398.0 242.6,396.6 242.8,395.6 243.0,394.4 243.0,393.0 243.1,392.2 243.0,390.8 243.4,389.9 243.3,388.5 243.4,387.4 243.8,386.6 243.7,385.5 243.7,384.3 243.9,383.3 244.1,381.6 244.2,380.8 244.4,379.1 244.7,377.6 245.0,376.5 246.0,375.3 247.0,376.0 247.6,377.7 247.8,378.8 247.9,379.6 247.8,380.7 247.9,382.2 248.1,383.1 248.3,384.1 248.4,385.2 248.4,386.7 248.6,387.3 248.6,388.7 248.7,389.5 248.6,390.9 248.9,392.2 248.9,393.3 249.0,394.4 249.2,395.3 249.3,397.0 249.2,398.1 249.2,399.3 249.3,400.0 249.5,401.2 249.5,402.5 249.5,403.4 249.7,404.6 249.7,405.7 250.0,406.7 249.9,408.1 250.1,409.0 250.1,410.2 250.3,411.6 250.4,413.1 250.5,414.2 250.6,415.2 250.5,415.9 250.8,417.0 250.8,418.7 250.8,419.5 251.0,420.6 251.0,422.0 251.0,423.5 251.1,423.9 251.4,425.3 251.4,426.7 251.4,427.4 251.7,428.5 251.9,429.9 251.9,431.3 252.0,432.1 251.9,433.0 252.1,434.5 252.1,435.3 252.4,436.3 252.4,437.8 252.7,439.0 252.6,440.3 252.8,441.2 253.0,442.4 252.9,443.0 253.2,444.2 253.1,445.4 253.5,446.8 253.4,447.6 253.7,449.0 253.8,449.5 254.1,451.0 254.1,452.0 254.4,453.2 254.5,454.2 254.8,455.8 255.1,456.5 255.2,457.7 255.6,459.1 255.8,460.4 256.0,461.5 256.5,462.4 257.1,463.5 257.9,464.2 258.6,465.2 259.2,466.0 260.3,466.3 261.3,467.1 262.3,467.5 265.0,468.7" fill="#aaaaaa" stroke="#000" stroke-width="1.2" stroke-linejoin="round"/>
<polyline points="258.0,466.6 264.0,466.2 270.0,466.6 276.0,466.3 282.0,466.8" fill="none" stroke="#000" stroke-width="0.9" stroke-linejoin="round"/>
<polyline points="232.0,468.7 233.6,467.7 234.7,467.5 235.5,466.7 237.0,465.3 237.8,464.7 238.1,463.4 238.8,462.9 239.1,461.7 239.2,460.0 240.0,460.0 240.2,458.4 240.2,456.7 241.0,455.7 241.1,454.5 241.3,454.1 241.4,452.9 241.5,450.9 241.8,450.4 242.3,448.9 242.6,448.3 242.8,446.2 242.8,445.1 243.1,443.8 243.4,443.6 243.5,441.4 243.7,440.9 243.7,439.7 244.0,438.6 243.8,436.9 244.2,436.2 244.2,435.1 244.2,433.8 244.3,433.0 244.9,431.9 244.7,430.4 244.9,429.4 244.9,428.0 245.3,427.5 245.2,425.6 245.8,424.9 245.7,423.5 245.6,422.7 245.9,421.1 245.9,420.4 246.5,419.0 246.2,418.1 246.4,416.2 246.8,415.7 246.8,414.4 247.1,413.1 247.4,412.2 247.3,410.9 247.7,410.0 247.9,409.0 247.6,407.6 248.3,406.3 248.5,404.9 248.7,403.4 248.8,402.5 248.9,401.4 249.1,400.0 249.4,399.0 249.8,397.7 250.3,397.5 250.5,395.9 252.1,395.1 252.4,396.7 252.7,397.7 252.5,398.8 252.7,399.3 252.8,400.2 253.4,402.3 253.3,403.0 253.7,403.9 254.1,405.6 254.1,406.7 254.6,407.1 254.7,408.4 254.9,409.6 255.2,410.9 255.2,412.5 255.7,413.2 256.1,414.3 256.3,415.3 256.6,416.8 256.4,417.2 256.8,418.8 257.3,419.8 257.1,420.6 257.8,422.6 257.7,423.2 258.1,424.9 258.4,426.2 258.3,426.8 258.7,428.3 259.2,428.8 259.3,430.1 259.8,432.0 260.2,432.6 260.6,433.7 260.8,434.6 261.1,435.6 261.5,436.5 262.1,438.0 262.8,439.4 263.3,440.1 263.9,442.3 264.4,442.7 264.7,444.1 264.9,444.8 265.4,446.0 265.9,447.5 266.1,448.6 266.6,449.8 267.1,450.4 267.2,451.8 267.7,452.9 268.5,454.0 268.6,454.9 268.9,455.2 269.5,456.8 269.9,458.4 270.7,459.3 271.0,460.5 271.8,461.5 272.4,462.2 273.3,464.2 274.2,464.7 275.4,465.7 276.6,466.3 277.7,466.4 279.4,466.6 280.5,467.5 282.0,467.7 283.0,468.7" fill="none" stroke="#000" stroke-width="2.15" stroke-linejoin="round"/>
<polygon points="388.0,468.7 390.5,466.1 391.2,465.0 391.9,463.7 392.5,462.8 393.0,461.9 393.9,460.7 394.5,459.8 394.8,458.6 395.1,457.9 395.4,456.4 395.8,455.5 396.2,454.6 396.4,453.7 397.0,452.5 397.1,451.2 397.6,450.3 397.7,449.2 398.0,448.1 398.0,446.7 398.2,445.9 398.5,444.6 398.6,443.5 398.9,442.6 399.1,441.9 399.2,440.2 399.5,439.5 399.8,438.5 399.7,437.4 400.0,436.1 400.2,435.3 400.2,433.7 400.3,433.0 400.5,431.3 400.7,430.8 400.8,429.5 401.0,428.2 401.3,426.9 401.2,425.8 401.5,425.2 401.5,423.5 401.8,422.7 401.9,421.1 402.1,420.3 402.2,419.3 402.3,417.9 402.5,417.0 402.6,415.5 402.7,415.0 402.7,413.8 402.7,412.7 403.0,411.1 402.9,410.4 403.0,408.8 403.2,407.8 403.5,406.5 403.6,405.7 403.6,404.5 403.8,403.3 404.0,401.9 403.9,400.9 404.2,400.0 404.3,398.9 404.1,397.8 404.2,396.8 404.4,395.8 404.7,394.2 404.6,393.1 404.8,392.0 404.8,390.6 405.1,389.6 405.1,388.7 405.3,387.2 405.3,386.3 405.5,385.4 405.5,384.0 405.9,382.9 405.7,381.8 406.0,380.9 405.9,380.1 406.1,378.5 406.3,377.6 406.7,376.5 407.1,375.3 407.9,374.5 408.8,375.2 409.5,376.8 409.7,377.9 409.8,379.3 409.7,380.7 409.9,381.9 410.2,382.4 410.0,383.7 410.2,385.0 410.5,386.6 410.5,387.5 410.6,388.7 410.8,390.1 410.8,391.1 410.8,391.8 411.0,393.3 411.2,394.6 411.0,395.8 411.4,396.3 411.2,397.8 411.4,399.0 411.5,399.8 411.7,401.1 411.8,401.9 411.8,403.5 411.9,404.5 412.1,405.7 412.1,406.4 412.2,408.0 412.1,409.1 412.4,410.5 412.4,411.1 412.4,412.7 412.7,413.5 412.6,414.9 412.7,416.0 412.9,417.0 412.8,417.8 412.9,419.0 413.1,420.3 413.1,421.1 413.3,422.5 413.5,423.4 413.6,425.1 413.7,425.8 413.7,427.0 413.7,428.2 413.9,429.5 414.3,430.4 414.4,431.8 414.4,432.8 414.6,434.0 414.7,434.8 414.7,436.1 414.8,437.1 415.0,438.5 415.3,439.6 415.2,440.5 415.4,441.2 415.5,442.8 415.5,443.4 415.9,444.6 415.9,445.6 416.2,446.9 416.1,448.5 416.6,448.9 416.6,450.3 416.7,451.8 417.1,452.6 417.3,453.7 417.5,455.0 417.6,455.9 417.9,457.2 418.3,458.7 418.5,459.8 419.2,460.7 419.6,462.2 420.1,463.1 420.8,464.5 421.3,465.3 422.2,465.5 423.3,466.5 424.2,467.0 425.3,467.4 428.0,468.7" fill="#aaaaaa" stroke="#000" stroke-width="1.2" stroke-linejoin="round"/>
<polyline points="421.0,466.6 428.0,466.1 435.0,466.5 442.0,466.1 448.0,466.6 454.0,466.9" fill="none" stroke="#000" stroke-width="0.9" stroke-linejoin="round"/>
<polyline points="395.0,468.7 396.5,468.4 397.6,467.4 398.4,466.0 399.3,465.2 400.2,465.0 400.8,463.7 401.1,462.3 401.8,461.7 402.1,460.0 402.5,459.4 403.2,458.2 403.3,457.2 403.7,455.6 404.1,454.7 404.3,452.9 404.3,452.0 404.8,451.2 405.2,450.0 405.2,448.7 405.3,447.2 405.4,446.6 405.6,444.9 406.1,444.4 406.3,443.2 406.1,442.2 406.5,440.5 406.6,439.0 406.5,437.9 406.7,437.3 407.1,436.1 407.5,435.5 407.3,433.8 407.7,432.4 407.8,431.7 408.1,430.8 408.0,429.7 408.4,427.9 408.5,427.2 408.7,426.3 409.0,425.0 409.3,423.7 409.7,423.0 409.9,421.5 410.4,421.0 410.3,419.5 410.9,418.2 411.1,417.1 411.3,415.7 412.3,415.3 412.6,413.2 413.1,412.4 413.4,411.4 414.0,409.6 414.3,409.2 414.7,407.7 414.9,406.0 415.4,404.7 415.2,403.4 415.4,402.9 415.8,401.3 415.8,402.1 416.3,403.5 416.3,405.5 416.8,406.1 416.9,407.7 417.0,408.8 417.1,409.6 417.2,411.7 417.7,412.1 417.9,414.0 418.1,414.7 417.9,416.0 418.2,417.1 418.7,418.3 418.8,419.8 419.7,420.4 419.8,421.9 420.3,422.6 420.4,424.1 420.9,425.2 421.3,426.6 421.3,428.3 421.7,429.2 422.1,429.6 422.0,430.9 422.6,432.2 422.7,433.8 422.9,434.5 424.2,433.2 425.3,432.9 426.5,433.8 427.3,434.5 428.2,435.8 429.2,436.1 429.6,437.6 429.6,438.1 429.8,439.3 429.9,440.5 430.6,441.4 430.6,442.8 430.8,444.0 431.3,445.6 431.7,446.0 432.1,447.7 432.3,448.8 432.4,450.0 432.8,450.9 433.2,451.9 433.4,453.3 433.9,454.0 434.3,455.4 435.0,456.5 435.0,457.6 435.6,458.2 436.3,459.9 436.8,460.7 437.5,461.2 437.9,462.9 438.7,463.8 439.7,464.3 440.5,465.6 441.1,466.1 442.3,466.1 443.5,466.4 445.0,466.9 445.7,467.3 446.8,468.4 448.0,468.7" fill="none" stroke="#000" stroke-width="2.15" stroke-linejoin="round"/>
<polygon points="65.0,620.6 67.5,618.3 68.0,616.9 68.7,616.4 69.4,615.1 70.3,614.3 70.8,612.9 71.4,612.0 71.8,611.1 72.3,609.9 72.7,608.3 72.8,607.4 73.5,606.2 73.7,605.0 74.2,603.7 74.5,602.6 74.6,601.6 74.9,600.3 75.2,599.7 75.5,598.0 75.6,596.9 75.8,596.0 75.8,595.0 76.3,593.9 76.3,593.0 76.7,591.6 76.7,590.9 77.2,589.9 77.2,588.5 77.3,587.3 77.6,586.4 77.6,584.9 77.9,583.9 77.9,582.7 78.1,581.8 78.4,580.5 78.4,579.9 78.4,578.7 78.6,577.6 78.9,576.4 79.1,575.0 78.9,573.8 79.2,572.9 79.5,571.8 79.6,570.9 79.7,569.5 79.5,568.5 79.9,567.4 79.9,566.1 79.9,564.9 80.1,563.9 80.1,562.8 80.3,561.3 80.5,560.7 80.5,559.3 80.6,558.3 80.8,557.2 81.1,556.2 81.1,554.7 81.2,554.0 81.3,552.9 81.5,551.4 81.3,550.8 81.6,549.7 81.6,547.9 81.9,547.3 81.9,545.7 82.2,545.0 82.3,543.6 82.2,542.4 82.4,541.5 82.5,540.2 82.6,539.4 82.7,538.0 82.8,536.8 83.0,535.9 83.1,534.7 83.4,533.8 83.5,532.7 83.4,531.6 83.6,530.5 83.9,529.1 84.4,527.6 85.2,526.6 86.2,527.4 86.5,528.7 87.1,530.5 87.4,531.7 87.3,532.6 87.4,533.7 87.5,535.0 87.8,535.8 87.6,537.2 88.0,538.4 88.1,539.2 88.1,540.7 88.3,541.5 88.3,542.6 88.5,543.8 88.7,545.0 88.6,545.7 88.9,547.4 88.9,548.3 89.1,549.2 89.0,550.5 89.0,551.4 89.3,553.0 89.3,553.5 89.4,554.9 89.6,556.0 89.6,557.2 89.7,558.2 89.8,559.7 89.8,560.5 90.0,561.6 89.9,563.0 90.1,563.8 90.3,565.0 90.2,566.2 90.5,567.2 90.5,568.2 90.4,569.2 90.7,570.3 90.6,571.5 90.8,572.9 90.8,573.7 91.1,575.3 91.2,576.5 91.3,577.4 91.4,578.2 91.2,579.5 91.6,580.9 91.4,581.7 91.7,583.2 91.9,584.1 91.7,584.8 91.7,586.0 92.1,587.5 92.1,588.5 92.1,589.4 92.4,590.6 92.7,592.1 92.8,593.1 92.8,594.3 92.9,595.4 93.3,597.1 93.1,598.0 93.3,598.9 93.6,600.1 93.7,601.1 93.8,602.6 93.9,603.9 94.4,604.9 94.5,606.2 94.8,607.6 95.0,608.4 95.4,610.0 95.5,611.1 95.7,612.0 96.2,612.8 97.0,614.1 97.7,615.0 98.2,616.6 98.8,617.5 99.9,617.7 100.9,618.5 101.9,619.1 102.8,619.6 105.0,620.6" fill="#aaaaaa" stroke="#000" stroke-width="1.2" stroke-linejoin="round"/>
<polyline points="99.0,618.8 106.0,618.3 112.0,618.8 118.0,618.4 124.0,618.9" fill="none" stroke="#000" stroke-width="0.9" stroke-linejoin="round"/>
<polyline points="72.0,620.6 73.5,620.0 74.5,619.6 75.5,619.2 76.0,617.9 76.8,616.8 77.7,616.0 78.5,615.3 79.1,614.1 79.7,613.2 80.3,611.4 80.8,610.5 81.2,609.1 81.6,607.8 81.6,607.0 81.8,606.3 82.4,605.1 82.7,603.1 83.1,602.4 83.2,601.1 83.4,600.0 83.4,599.3 83.6,598.0 83.8,596.3 84.2,595.8 84.3,594.5 84.7,593.3 84.9,591.5 84.9,591.0 85.2,589.8 85.5,588.5 85.9,587.3 86.2,586.8 86.1,585.1 86.4,584.5 86.6,583.0 86.9,581.9 86.6,580.8 86.8,580.1 87.0,578.9 87.4,577.6 87.6,577.0 87.6,575.5 87.9,574.2 88.4,572.6 88.4,571.2 88.8,570.1 88.5,569.8 89.0,568.2 89.2,566.9 89.6,565.9 90.0,564.2 89.8,562.8 90.2,561.9 90.5,560.9 91.3,559.0 91.8,558.0 93.3,559.5 93.5,560.5 94.1,562.3 94.4,563.3 94.9,564.2 96.5,565.0 96.7,566.8 97.4,568.0 97.7,568.9 98.2,570.5 98.5,571.2 98.8,572.6 99.4,572.9 99.6,574.4 100.1,575.8 100.3,576.8 101.0,577.5 101.4,579.1 101.7,579.3 102.0,580.7 102.3,581.8 102.6,582.4 103.1,583.8 103.5,584.6 104.1,586.0 104.3,587.0 104.5,588.1 105.0,589.5 105.8,590.6 105.9,590.7 106.2,592.7 106.7,593.2 106.9,594.3 107.2,594.8 107.6,595.9 108.1,597.5 108.5,598.9 108.7,599.5 109.3,600.4 109.5,601.7 109.9,603.0 110.2,603.5 110.8,604.5 110.9,605.8 111.6,606.6 111.6,607.4 112.1,609.0 112.6,609.9 113.3,611.3 113.7,612.0 114.6,613.1 115.1,614.4 115.3,615.1 116.2,615.3 116.9,616.7 117.8,617.8 118.6,618.0 120.0,618.4 120.8,619.1 122.0,619.7 122.8,619.6 124.0,620.6" fill="none" stroke="#000" stroke-width="2.15" stroke-linejoin="round"/>
<polygon points="225.0,620.3 227.5,618.3 228.3,617.0 229.1,615.9 229.7,615.0 230.2,614.1 231.0,613.4 231.7,612.0 231.9,611.1 232.7,610.1 233.0,608.6 233.2,607.7 233.8,606.7 234.3,606.1 234.5,605.0 234.8,603.8 235.3,602.6 235.5,601.7 235.8,600.3 235.7,599.2 235.9,598.0 236.3,597.2 236.4,595.9 236.6,595.1 236.8,593.9 236.8,592.5 237.1,591.7 237.2,590.8 237.4,589.8 237.7,588.5 237.8,587.1 237.9,586.2 238.0,585.3 238.4,584.2 238.4,582.9 238.6,582.1 238.5,580.5 238.7,579.3 239.0,578.2 239.0,577.3 239.3,576.3 239.2,574.9 239.4,573.9 239.6,572.9 239.8,572.1 239.7,570.6 239.8,569.2 240.1,568.7 240.2,567.1 240.2,565.9 240.2,564.9 240.5,564.1 240.4,562.8 240.6,561.8 240.6,560.7 240.7,559.7 241.0,558.1 241.1,557.2 241.0,555.9 241.5,555.1 241.3,553.7 241.4,552.8 241.6,551.5 241.5,550.4 241.8,549.0 242.0,548.6 241.9,546.8 241.9,546.0 242.1,545.0 242.1,544.0 242.4,542.9 242.4,541.5 242.4,540.4 242.5,539.3 242.8,538.3 243.0,537.2 243.1,535.7 243.0,535.1 243.1,533.7 243.4,532.8 243.5,531.5 243.6,530.5 244.1,528.9 244.4,527.5 245.2,526.6 246.1,527.6 246.6,528.5 246.8,529.8 246.7,530.9 247.1,531.9 247.2,533.6 247.4,534.2 247.2,535.8 247.5,536.7 247.4,537.6 247.8,539.1 247.7,540.7 247.9,541.5 248.1,542.9 248.1,544.0 248.2,545.2 248.2,546.3 248.3,546.9 248.3,548.2 248.5,549.3 248.4,550.5 248.6,551.4 248.7,552.7 248.7,554.0 248.8,555.0 249.0,556.3 249.0,557.2 249.1,558.5 249.3,559.3 249.2,560.6 249.3,561.5 249.5,563.0 249.6,563.9 249.6,564.8 249.6,566.1 249.9,567.2 249.8,568.6 250.0,569.3 250.1,570.8 250.2,571.9 250.2,572.9 250.2,573.9 250.3,575.0 250.6,576.6 250.8,577.5 250.7,578.7 250.7,579.5 251.1,580.9 251.1,581.8 251.2,582.8 251.5,584.2 251.6,585.4 251.5,586.2 251.9,587.3 251.8,588.5 251.8,589.5 252.2,590.7 252.1,592.3 252.4,593.4 252.3,594.3 252.5,595.7 252.8,596.5 252.8,597.9 252.8,599.1 253.0,599.9 253.0,601.3 253.3,602.6 253.6,603.7 253.8,604.8 253.9,606.2 254.3,607.0 254.4,608.6 254.8,609.4 254.9,611.1 255.2,612.0 255.8,613.2 256.2,614.1 256.9,615.2 257.4,616.5 258.0,617.5 258.9,617.8 260.0,618.4 261.1,619.0 262.0,619.6 265.0,620.3" fill="#aaaaaa" stroke="#000" stroke-width="1.2" stroke-linejoin="round"/>
<polyline points="262.0,619.0 268.0,618.5 274.0,618.9 280.0,618.6 286.0,619.0" fill="none" stroke="#000" stroke-width="0.9" stroke-linejoin="round"/>
<polyline points="232.0,620.3 233.5,619.5 234.5,619.6 235.5,618.2 236.1,617.1 236.6,616.2 237.7,615.2 238.2,614.4 238.5,612.7 239.0,611.8 238.9,610.2 239.4,609.3 239.9,608.7 240.0,607.3 240.1,606.2 240.1,605.3 240.7,603.5 241.0,602.5 240.9,601.0 240.8,599.9 241.0,598.6 241.4,597.8 241.5,596.7 241.8,595.8 241.7,594.9 242.1,593.2 242.2,592.1 242.6,590.8 242.7,589.5 242.5,588.6 242.8,587.8 242.6,586.3 242.9,585.9 243.2,583.9 243.2,583.2 243.6,581.9 243.5,580.8 243.6,580.3 243.6,578.6 243.9,577.6 244.1,576.7 244.1,575.3 244.4,573.9 244.5,573.1 244.6,571.9 244.4,570.4 244.8,570.3 244.8,568.8 244.8,567.5 245.1,566.0 245.0,565.5 245.1,564.3 245.2,563.1 245.5,561.9 245.5,560.8 245.5,559.7 245.9,558.4 245.9,556.9 246.1,556.4 246.4,555.2 246.2,554.0 246.6,552.7 246.7,551.7 246.7,550.3 246.8,549.3 247.1,548.7 246.9,547.2 247.0,546.1 247.7,545.3 247.5,544.0 247.6,543.0 247.9,541.5 248.5,540.3 249.0,538.4 250.2,538.4 251.0,539.4 251.3,541.5 251.6,542.6 251.6,544.1 251.6,545.4 251.9,546.6 252.0,546.9 252.0,548.1 252.2,549.9 252.6,550.9 252.6,551.7 253.0,552.9 253.1,554.8 253.0,556.0 253.0,557.0 253.4,558.2 253.2,559.2 253.7,559.6 253.6,561.3 253.5,562.8 253.8,563.5 253.9,564.9 254.0,566.1 254.4,566.6 254.4,567.8 254.3,569.5 254.5,570.5 254.5,571.2 254.7,573.1 254.9,573.7 255.2,574.3 255.2,576.0 255.6,577.4 255.4,578.0 255.8,579.1 255.8,580.6 255.8,581.5 256.1,583.1 256.5,583.7 256.6,584.5 256.8,585.7 256.8,587.0 256.8,587.6 257.1,589.3 257.3,590.1 257.4,591.0 257.8,591.9 257.9,593.3 258.0,594.7 257.9,595.9 258.1,597.1 258.4,597.9 258.8,599.5 259.1,600.4 259.2,601.4 259.2,603.1 259.6,603.3 259.7,605.0 260.4,605.8 260.4,607.3 260.6,608.2 261.2,609.1 261.6,610.1 262.0,611.5 262.6,612.6 262.8,613.6 263.8,614.0 264.1,615.2 265.2,616.8 265.9,617.5 266.9,617.9 268.1,618.6 269.3,618.9 270.6,619.1 271.9,619.8 273.0,620.3" fill="none" stroke="#000" stroke-width="2.15" stroke-linejoin="round"/>
<polygon points="382.0,619.5 384.4,619.1 385.7,618.5 387.1,617.7 388.3,617.5 388.9,616.5 389.7,615.3 390.5,613.9 390.9,613.4 391.7,612.0 391.9,610.6 392.2,609.5 392.6,608.5 392.9,607.2 393.4,606.0 393.4,605.1 393.7,603.6 394.2,602.6 394.2,601.3 394.7,600.4 394.6,599.4 395.0,597.6 395.3,596.7 395.2,595.5 395.6,594.1 395.6,593.2 395.9,592.0 396.0,591.1 396.2,589.4 396.4,588.5 396.5,587.7 396.7,586.4 396.8,585.1 396.9,583.9 396.9,583.2 397.3,581.7 397.1,581.0 397.4,579.7 397.5,578.7 397.5,577.1 397.8,576.4 397.9,574.9 398.0,574.1 398.1,572.9 398.2,571.4 398.3,570.5 398.3,569.4 398.5,568.5 398.6,567.5 398.9,566.2 398.9,564.8 399.1,563.6 399.1,562.5 399.1,561.6 399.3,560.5 399.3,559.4 399.4,558.3 399.6,557.2 399.6,556.4 399.7,554.9 399.8,554.2 400.1,552.8 400.1,551.5 400.0,550.3 400.2,549.0 400.2,548.5 400.5,547.1 400.3,545.8 400.5,544.9 400.8,544.0 400.7,542.4 400.8,541.5 400.8,540.3 401.2,539.3 401.2,538.1 401.2,537.2 401.3,536.3 401.7,534.8 401.7,533.5 401.8,532.4 401.8,531.3 402.1,530.5 402.3,529.1 402.8,528.0 403.6,527.4 404.6,528.0 405.5,529.8 405.6,530.7 405.7,532.2 406.0,533.5 406.0,534.3 406.1,535.9 406.3,537.0 406.6,538.3 406.9,539.2 406.8,540.1 407.1,541.5 407.2,542.8 407.2,543.9 407.3,544.9 407.5,545.9 407.6,547.2 407.8,548.1 408.0,549.1 407.9,550.5 408.1,551.3 408.2,552.7 408.2,553.7 408.3,555.2 408.6,556.4 408.6,557.2 408.9,558.7 408.9,559.3 408.8,560.6 409.1,562.0 409.2,563.0 409.4,563.6 409.3,564.8 409.4,566.3 409.7,567.3 409.8,568.1 409.8,569.3 410.0,570.8 410.0,571.5 410.2,572.9 410.3,574.3 410.4,575.1 410.7,576.4 410.7,577.5 410.9,578.5 411.2,579.4 411.2,581.0 411.3,582.2 411.3,583.2 411.6,584.2 411.8,585.5 411.7,586.5 412.0,587.6 412.1,588.5 412.2,589.5 412.6,591.0 412.7,592.2 412.7,592.9 412.9,594.3 413.1,595.3 413.4,596.3 413.7,597.5 413.9,598.7 413.8,599.8 414.1,601.1 414.2,602.1 414.7,603.3 415.1,604.1 415.1,605.5 415.5,607.0 415.7,607.6 416.2,608.9 416.8,609.7 417.2,611.2 417.7,612.0 418.2,613.6 418.8,614.4 419.7,615.5 420.5,615.7 421.3,616.4 422.0,617.5 423.4,618.3 424.7,618.6 425.9,619.1 429.0,619.5" fill="#aaaaaa" stroke="#000" stroke-width="1.2" stroke-linejoin="round"/>
<polyline points="420.0,618.2 428.0,617.6 436.0,618.0 444.0,617.5 450.0,617.9 455.0,618.3" fill="none" stroke="#000" stroke-width="0.9" stroke-linejoin="round"/>
<polyline points="391.0,619.5 392.2,619.0 393.3,619.0 394.5,619.1 395.8,618.4 397.0,618.4 398.1,618.0 399.2,617.5 400.5,617.6 401.5,616.8 402.7,616.8 403.9,616.0 404.9,614.8 406.3,614.6 407.1,613.6 408.7,613.4 410.2,612.8 411.6,612.5 412.6,611.3 414.1,609.7 414.9,610.4 415.7,611.3 416.7,611.9 418.0,612.0 419.7,611.6 421.2,612.0 421.8,611.3 422.9,610.1 423.5,608.9 424.1,607.5 425.0,606.8 425.9,605.8 427.3,604.6 428.0,603.9 428.4,602.2 428.5,601.3 429.0,600.5 429.6,598.8 429.9,597.2 430.2,596.0 430.8,595.3 431.1,594.1 431.3,593.4 431.5,591.7 431.9,590.8 432.3,589.6 432.8,588.6 433.3,587.1 433.6,586.7 434.2,585.0 434.4,583.7 434.9,582.2 435.8,581.4 436.3,580.6 436.5,579.2 437.1,578.2 437.4,576.6 438.3,575.2 438.6,573.8 438.9,572.7 439.5,571.3 440.0,570.0 440.1,571.1 440.4,571.9 440.4,573.8 440.5,574.2 440.9,576.2 440.5,577.2 440.9,578.5 441.2,579.0 441.1,580.4 441.6,579.6 441.7,577.8 441.9,576.8 442.3,575.8 444.0,575.2 444.4,576.6 444.7,577.3 445.1,579.2 445.5,580.3 445.8,581.0 445.8,580.4 446.3,578.6 446.7,577.8 446.6,576.5 446.9,575.3 447.3,574.3 447.2,572.3 447.5,571.7 447.5,573.4 447.8,574.6 448.5,575.8 448.6,576.9 450.4,577.5 451.5,578.4 452.7,579.8 454.4,579.8 454.9,580.8 455.3,582.5 455.6,583.8 456.0,584.8 456.4,586.6 456.5,587.8 456.9,588.5 457.3,589.6 457.8,590.6 457.9,591.5 458.4,593.4 458.3,593.7 459.0,595.3 459.0,596.5 459.8,597.3 460.2,598.7 460.5,600.4 461.3,601.1 461.7,602.1 462.3,603.0 463.1,604.8 463.6,605.7 464.2,606.4 464.3,608.0 465.2,609.5 465.7,610.0 465.9,611.5 466.5,612.7 467.6,612.7 467.9,614.5 468.8,615.0 470.4,615.8 471.7,616.1 473.0,617.4 474.0,618.4 475.4,619.4 476.9,619.4 479.0,619.5" fill="none" stroke="#000" stroke-width="2.15" stroke-linejoin="round"/>
<line x1="57.0" y1="5.0" x2="57.0" y2="131.5" stroke="#000" stroke-width="1.5"/>
<line x1="56.25" y1="127.2" x2="188.1" y2="127.2" stroke="#000" stroke-width="1.5"/>
<line x1="52.5" y1="127.20" x2="57.0" y2="127.20" stroke="#000" stroke-width="1.5"/>
<text transform="translate(52.10,130.10) scale(1.04,1.02)" class="t" text-anchor="end">0</text>
<line x1="52.5" y1="102.76" x2="57.0" y2="102.76" stroke="#000" stroke-width="1.5"/>
<text transform="translate(52.10,106.02) scale(1.04,1.02)" class="t" text-anchor="end">30</text>
<line x1="52.5" y1="78.32" x2="57.0" y2="78.32" stroke="#000" stroke-width="1.5"/>
<text transform="translate(52.10,81.94) scale(1.04,1.02)" class="t" text-anchor="end">60</text>
<line x1="52.5" y1="53.88" x2="57.0" y2="53.88" stroke="#000" stroke-width="1.5"/>
<text transform="translate(52.10,57.86) scale(1.04,1.02)" class="t" text-anchor="end">90</text>
<line x1="52.5" y1="29.44" x2="57.0" y2="29.44" stroke="#000" stroke-width="1.5"/>
<text transform="translate(52.10,33.78) scale(1.04,1.02)" class="t" text-anchor="end">120</text>
<line x1="52.5" y1="5.00" x2="57.0" y2="5.00" stroke="#000" stroke-width="1.5"/>
<text transform="translate(52.10,9.70) scale(1.04,1.02)" class="t" text-anchor="end">150</text>
<line x1="57.00" y1="127.2" x2="57.00" y2="131.5" stroke="#000" stroke-width="1.5"/>
<text transform="translate(52.40,142.20) scale(1.0,1.02)" class="t">10<tspan class="s" dy="-5.6" dx="0.5">0</tspan></text>
<line x1="88.90" y1="127.2" x2="88.90" y2="131.5" stroke="#000" stroke-width="1.5"/>
<text transform="translate(84.30,142.20) scale(1.0,1.02)" class="t">10<tspan class="s" dy="-5.6" dx="0.5">1</tspan></text>
<line x1="120.80" y1="127.2" x2="120.80" y2="131.5" stroke="#000" stroke-width="1.5"/>
<text transform="translate(116.20,142.20) scale(1.0,1.02)" class="t">10<tspan class="s" dy="-5.6" dx="0.5">2</tspan></text>
<line x1="152.70" y1="127.2" x2="152.70" y2="131.5" stroke="#000" stroke-width="1.5"/>
<text transform="translate(148.10,142.20) scale(1.0,1.02)" class="t">10<tspan class="s" dy="-5.6" dx="0.5">3</tspan></text>
<line x1="184.60" y1="127.2" x2="184.60" y2="131.5" stroke="#000" stroke-width="1.5"/>
<text transform="translate(180.00,142.20) scale(1.0,1.02)" class="t">10<tspan class="s" dy="-5.6" dx="0.5">4</tspan></text>
<line x1="217.9" y1="5.0" x2="217.9" y2="131.4" stroke="#000" stroke-width="1.5"/>
<line x1="217.15" y1="127.1" x2="349.0" y2="127.1" stroke="#000" stroke-width="1.5"/>
<line x1="213.4" y1="127.10" x2="217.9" y2="127.10" stroke="#000" stroke-width="1.5"/>
<text transform="translate(213.00,130.00) scale(1.04,1.02)" class="t" text-anchor="end">0</text>
<line x1="213.4" y1="102.68" x2="217.9" y2="102.68" stroke="#000" stroke-width="1.5"/>
<text transform="translate(213.00,105.94) scale(1.04,1.02)" class="t" text-anchor="end">30</text>
<line x1="213.4" y1="78.26" x2="217.9" y2="78.26" stroke="#000" stroke-width="1.5"/>
<text transform="translate(213.00,81.88) scale(1.04,1.02)" class="t" text-anchor="end">60</text>
<line x1="213.4" y1="53.84" x2="217.9" y2="53.84" stroke="#000" stroke-width="1.5"/>
<text transform="translate(213.00,57.82) scale(1.04,1.02)" class="t" text-anchor="end">90</text>
<line x1="213.4" y1="29.42" x2="217.9" y2="29.42" stroke="#000" stroke-width="1.5"/>
<text transform="translate(213.00,33.76) scale(1.04,1.02)" class="t" text-anchor="end">120</text>
<line x1="213.4" y1="5.00" x2="217.9" y2="5.00" stroke="#000" stroke-width="1.5"/>
<text transform="translate(213.00,9.70) scale(1.04,1.02)" class="t" text-anchor="end">150</text>
<line x1="217.90" y1="127.1" x2="217.90" y2="131.4" stroke="#000" stroke-width="1.5"/>
<text transform="translate(213.30,142.10) scale(1.0,1.02)" class="t">10<tspan class="s" dy="-5.6" dx="0.5">0</tspan></text>
<line x1="249.80" y1="127.1" x2="249.80" y2="131.4" stroke="#000" stroke-width="1.5"/>
<text transform="translate(245.20,142.10) scale(1.0,1.02)" class="t">10<tspan class="s" dy="-5.6" dx="0.5">1</tspan></text>
<line x1="281.70" y1="127.1" x2="281.70" y2="131.4" stroke="#000" stroke-width="1.5"/>
<text transform="translate(277.10,142.10) scale(1.0,1.02)" class="t">10<tspan class="s" dy="-5.6" dx="0.5">2</tspan></text>
<line x1="313.60" y1="127.1" x2="313.60" y2="131.4" stroke="#000" stroke-width="1.5"/>
<text transform="translate(309.00,142.10) scale(1.0,1.02)" class="t">10<tspan class="s" dy="-5.6" dx="0.5">3</tspan></text>
<line x1="345.50" y1="127.1" x2="345.50" y2="131.4" stroke="#000" stroke-width="1.5"/>
<text transform="translate(340.90,142.10) scale(1.0,1.02)" class="t">10<tspan class="s" dy="-5.6" dx="0.5">4</tspan></text>
<line x1="378.75" y1="5.0" x2="378.75" y2="131.20000000000002" stroke="#000" stroke-width="1.5"/>
<line x1="378.0" y1="126.9" x2="509.85" y2="126.9" stroke="#000" stroke-width="1.5"/>
<line x1="374.25" y1="126.90" x2="378.75" y2="126.90" stroke="#000" stroke-width="1.5"/>
<text transform="translate(373.85,129.80) scale(1.04,1.02)" class="t" text-anchor="end">0</text>
<line x1="374.25" y1="102.52" x2="378.75" y2="102.52" stroke="#000" stroke-width="1.5"/>
<text transform="translate(373.85,105.78) scale(1.04,1.02)" class="t" text-anchor="end">30</text>
<line x1="374.25" y1="78.14" x2="378.75" y2="78.14" stroke="#000" stroke-width="1.5"/>
<text transform="translate(373.85,81.76) scale(1.04,1.02)" class="t" text-anchor="end">60</text>
<line x1="374.25" y1="53.76" x2="378.75" y2="53.76" stroke="#000" stroke-width="1.5"/>
<text transform="translate(373.85,57.74) scale(1.04,1.02)" class="t" text-anchor="end">90</text>
<line x1="374.25" y1="29.38" x2="378.75" y2="29.38" stroke="#000" stroke-width="1.5"/>
<text transform="translate(373.85,33.72) scale(1.04,1.02)" class="t" text-anchor="end">120</text>
<line x1="374.25" y1="5.00" x2="378.75" y2="5.00" stroke="#000" stroke-width="1.5"/>
<text transform="translate(373.85,9.70) scale(1.04,1.02)" class="t" text-anchor="end">150</text>
<line x1="378.75" y1="126.9" x2="378.75" y2="131.20000000000002" stroke="#000" stroke-width="1.5"/>
<text transform="translate(374.15,141.90) scale(1.0,1.02)" class="t">10<tspan class="s" dy="-5.6" dx="0.5">0</tspan></text>
<line x1="410.65" y1="126.9" x2="410.65" y2="131.20000000000002" stroke="#000" stroke-width="1.5"/>
<text transform="translate(406.05,141.90) scale(1.0,1.02)" class="t">10<tspan class="s" dy="-5.6" dx="0.5">1</tspan></text>
<line x1="442.55" y1="126.9" x2="442.55" y2="131.20000000000002" stroke="#000" stroke-width="1.5"/>
<text transform="translate(437.95,141.90) scale(1.0,1.02)" class="t">10<tspan class="s" dy="-5.6" dx="0.5">2</tspan></text>
<line x1="474.45" y1="126.9" x2="474.45" y2="131.20000000000002" stroke="#000" stroke-width="1.5"/>
<text transform="translate(469.85,141.90) scale(1.0,1.02)" class="t">10<tspan class="s" dy="-5.6" dx="0.5">3</tspan></text>
<line x1="506.35" y1="126.9" x2="506.35" y2="131.20000000000002" stroke="#000" stroke-width="1.5"/>
<text transform="translate(501.75,141.90) scale(1.0,1.02)" class="t">10<tspan class="s" dy="-5.6" dx="0.5">4</tspan></text>
<line x1="57.5" y1="196.2" x2="57.5" y2="322.1" stroke="#000" stroke-width="1.5"/>
<line x1="56.75" y1="317.8" x2="188.6" y2="317.8" stroke="#000" stroke-width="1.5"/>
<line x1="53.0" y1="317.80" x2="57.5" y2="317.80" stroke="#000" stroke-width="1.5"/>
<text transform="translate(52.60,320.70) scale(1.04,1.02)" class="t" text-anchor="end">0</text>
<line x1="53.0" y1="293.48" x2="57.5" y2="293.48" stroke="#000" stroke-width="1.5"/>
<text transform="translate(52.60,296.74) scale(1.04,1.02)" class="t" text-anchor="end">30</text>
<line x1="53.0" y1="269.16" x2="57.5" y2="269.16" stroke="#000" stroke-width="1.5"/>
<text transform="translate(41.10,273.26) scale(1.04,1.02)" class="t">6</text>
<text transform="translate(41.10,284.06) scale(1.04,1.02)" class="t">0</text>
<line x1="53.0" y1="244.84" x2="57.5" y2="244.84" stroke="#000" stroke-width="1.5"/>
<text transform="translate(52.60,248.82) scale(1.04,1.02)" class="t" text-anchor="end">90</text>
<line x1="53.0" y1="220.52" x2="57.5" y2="220.52" stroke="#000" stroke-width="1.5"/>
<text transform="translate(52.60,224.86) scale(1.04,1.02)" class="t" text-anchor="end">120</text>
<line x1="53.0" y1="196.20" x2="57.5" y2="196.20" stroke="#000" stroke-width="1.5"/>
<text transform="translate(52.60,200.90) scale(1.04,1.02)" class="t" text-anchor="end">150</text>
<line x1="57.50" y1="317.8" x2="57.50" y2="322.1" stroke="#000" stroke-width="1.5"/>
<text transform="translate(52.90,332.80) scale(1.0,1.02)" class="t">10<tspan class="s" dy="-5.6" dx="0.5">0</tspan></text>
<line x1="89.40" y1="317.8" x2="89.40" y2="322.1" stroke="#000" stroke-width="1.5"/>
<text transform="translate(84.80,332.80) scale(1.0,1.02)" class="t">10<tspan class="s" dy="-5.6" dx="0.5">1</tspan></text>
<line x1="121.30" y1="317.8" x2="121.30" y2="322.1" stroke="#000" stroke-width="1.5"/>
<text transform="translate(116.70,332.80) scale(1.0,1.02)" class="t">10<tspan class="s" dy="-5.6" dx="0.5">2</tspan></text>
<line x1="153.20" y1="317.8" x2="153.20" y2="322.1" stroke="#000" stroke-width="1.5"/>
<text transform="translate(148.60,332.80) scale(1.0,1.02)" class="t">10<tspan class="s" dy="-5.6" dx="0.5">3</tspan></text>
<line x1="185.10" y1="317.8" x2="185.10" y2="322.1" stroke="#000" stroke-width="1.5"/>
<text transform="translate(180.50,332.80) scale(1.0,1.02)" class="t">10<tspan class="s" dy="-5.6" dx="0.5">4</tspan></text>
<line x1="217.5" y1="196.2" x2="217.5" y2="322.3" stroke="#000" stroke-width="1.5"/>
<line x1="216.75" y1="318.0" x2="348.6" y2="318.0" stroke="#000" stroke-width="1.5"/>
<line x1="213.0" y1="318.00" x2="217.5" y2="318.00" stroke="#000" stroke-width="1.5"/>
<text transform="translate(212.60,320.90) scale(1.04,1.02)" class="t" text-anchor="end">0</text>
<line x1="213.0" y1="293.64" x2="217.5" y2="293.64" stroke="#000" stroke-width="1.5"/>
<text transform="translate(212.60,296.90) scale(1.04,1.02)" class="t" text-anchor="end">30</text>
<line x1="213.0" y1="269.28" x2="217.5" y2="269.28" stroke="#000" stroke-width="1.5"/>
<text transform="translate(212.60,272.90) scale(1.04,1.02)" class="t" text-anchor="end">60</text>
<line x1="213.0" y1="244.92" x2="217.5" y2="244.92" stroke="#000" stroke-width="1.5"/>
<text transform="translate(212.60,248.90) scale(1.04,1.02)" class="t" text-anchor="end">90</text>
<line x1="213.0" y1="220.56" x2="217.5" y2="220.56" stroke="#000" stroke-width="1.5"/>
<text transform="translate(212.60,224.90) scale(1.04,1.02)" class="t" text-anchor="end">120</text>
<line x1="213.0" y1="196.20" x2="217.5" y2="196.20" stroke="#000" stroke-width="1.5"/>
<text transform="translate(212.60,200.90) scale(1.04,1.02)" class="t" text-anchor="end">150</text>
<line x1="217.50" y1="318.0" x2="217.50" y2="322.3" stroke="#000" stroke-width="1.5"/>
<text transform="translate(212.90,333.00) scale(1.0,1.02)" class="t">10<tspan class="s" dy="-5.6" dx="0.5">0</tspan></text>
<line x1="249.40" y1="318.0" x2="249.40" y2="322.3" stroke="#000" stroke-width="1.5"/>
<text transform="translate(244.80,333.00) scale(1.0,1.02)" class="t">10<tspan class="s" dy="-5.6" dx="0.5">1</tspan></text>
<line x1="281.30" y1="318.0" x2="281.30" y2="322.3" stroke="#000" stroke-width="1.5"/>
<text transform="translate(276.70,333.00) scale(1.0,1.02)" class="t">10<tspan class="s" dy="-5.6" dx="0.5">2</tspan></text>
<line x1="313.20" y1="318.0" x2="313.20" y2="322.3" stroke="#000" stroke-width="1.5"/>
<text transform="translate(308.60,333.00) scale(1.0,1.02)" class="t">10<tspan class="s" dy="-5.6" dx="0.5">3</tspan></text>
<line x1="345.10" y1="318.0" x2="345.10" y2="322.3" stroke="#000" stroke-width="1.5"/>
<text transform="translate(340.50,333.00) scale(1.0,1.02)" class="t">10<tspan class="s" dy="-5.6" dx="0.5">4</tspan></text>
<line x1="378.7" y1="196.2" x2="378.7" y2="322.5" stroke="#000" stroke-width="1.5"/>
<line x1="377.95" y1="318.2" x2="509.79999999999995" y2="318.2" stroke="#000" stroke-width="1.5"/>
<line x1="374.2" y1="318.20" x2="378.7" y2="318.20" stroke="#000" stroke-width="1.5"/>
<text transform="translate(373.80,321.10) scale(1.04,1.02)" class="t" text-anchor="end">0</text>
<line x1="374.2" y1="293.80" x2="378.7" y2="293.80" stroke="#000" stroke-width="1.5"/>
<text transform="translate(373.80,297.06) scale(1.04,1.02)" class="t" text-anchor="end">30</text>
<line x1="374.2" y1="269.40" x2="378.7" y2="269.40" stroke="#000" stroke-width="1.5"/>
<text transform="translate(373.80,273.02) scale(1.04,1.02)" class="t" text-anchor="end">60</text>
<line x1="374.2" y1="245.00" x2="378.7" y2="245.00" stroke="#000" stroke-width="1.5"/>
<text transform="translate(373.80,248.98) scale(1.04,1.02)" class="t" text-anchor="end">90</text>
<line x1="374.2" y1="220.60" x2="378.7" y2="220.60" stroke="#000" stroke-width="1.5"/>
<text transform="translate(373.80,224.94) scale(1.04,1.02)" class="t" text-anchor="end">120</text>
<line x1="374.2" y1="196.20" x2="378.7" y2="196.20" stroke="#000" stroke-width="1.5"/>
<text transform="translate(373.80,200.90) scale(1.04,1.02)" class="t" text-anchor="end">150</text>
<line x1="378.70" y1="318.2" x2="378.70" y2="322.5" stroke="#000" stroke-width="1.5"/>
<text transform="translate(374.10,333.20) scale(1.0,1.02)" class="t">10<tspan class="s" dy="-5.6" dx="0.5">0</tspan></text>
<line x1="410.60" y1="318.2" x2="410.60" y2="322.5" stroke="#000" stroke-width="1.5"/>
<text transform="translate(406.00,333.20) scale(1.0,1.02)" class="t">10<tspan class="s" dy="-5.6" dx="0.5">1</tspan></text>
<line x1="442.50" y1="318.2" x2="442.50" y2="322.5" stroke="#000" stroke-width="1.5"/>
<text transform="translate(437.90,333.20) scale(1.0,1.02)" class="t">10<tspan class="s" dy="-5.6" dx="0.5">2</tspan></text>
<line x1="474.40" y1="318.2" x2="474.40" y2="322.5" stroke="#000" stroke-width="1.5"/>
<text transform="translate(469.80,333.20) scale(1.0,1.02)" class="t">10<tspan class="s" dy="-5.6" dx="0.5">3</tspan></text>
<line x1="506.30" y1="318.2" x2="506.30" y2="322.5" stroke="#000" stroke-width="1.5"/>
<text transform="translate(501.70,333.20) scale(1.0,1.02)" class="t">10<tspan class="s" dy="-5.6" dx="0.5">4</tspan></text>
<line x1="56.9" y1="346.3" x2="56.9" y2="472.5" stroke="#000" stroke-width="1.5"/>
<line x1="56.15" y1="468.2" x2="188.0" y2="468.2" stroke="#000" stroke-width="1.5"/>
<line x1="52.4" y1="468.20" x2="56.9" y2="468.20" stroke="#000" stroke-width="1.5"/>
<text transform="translate(52.00,471.10) scale(1.04,1.02)" class="t" text-anchor="end">0</text>
<line x1="52.4" y1="443.82" x2="56.9" y2="443.82" stroke="#000" stroke-width="1.5"/>
<text transform="translate(52.00,447.08) scale(1.04,1.02)" class="t" text-anchor="end">30</text>
<line x1="52.4" y1="419.44" x2="56.9" y2="419.44" stroke="#000" stroke-width="1.5"/>
<text transform="translate(40.50,423.54) scale(1.04,1.02)" class="t">6</text>
<text transform="translate(40.50,434.34) scale(1.04,1.02)" class="t">0</text>
<line x1="52.4" y1="395.06" x2="56.9" y2="395.06" stroke="#000" stroke-width="1.5"/>
<text transform="translate(52.00,399.04) scale(1.04,1.02)" class="t" text-anchor="end">90</text>
<line x1="52.4" y1="370.68" x2="56.9" y2="370.68" stroke="#000" stroke-width="1.5"/>
<text transform="translate(52.00,375.02) scale(1.04,1.02)" class="t" text-anchor="end">120</text>
<line x1="52.4" y1="346.30" x2="56.9" y2="346.30" stroke="#000" stroke-width="1.5"/>
<text transform="translate(52.00,351.00) scale(1.04,1.02)" class="t" text-anchor="end">150</text>
<line x1="56.90" y1="468.2" x2="56.90" y2="472.5" stroke="#000" stroke-width="1.5"/>
<text transform="translate(52.30,483.20) scale(1.0,1.02)" class="t">10<tspan class="s" dy="-5.6" dx="0.5">0</tspan></text>
<line x1="88.80" y1="468.2" x2="88.80" y2="472.5" stroke="#000" stroke-width="1.5"/>
<text transform="translate(84.20,483.20) scale(1.0,1.02)" class="t">10<tspan class="s" dy="-5.6" dx="0.5">1</tspan></text>
<line x1="120.70" y1="468.2" x2="120.70" y2="472.5" stroke="#000" stroke-width="1.5"/>
<text transform="translate(116.10,483.20) scale(1.0,1.02)" class="t">10<tspan class="s" dy="-5.6" dx="0.5">2</tspan></text>
<line x1="152.60" y1="468.2" x2="152.60" y2="472.5" stroke="#000" stroke-width="1.5"/>
<text transform="translate(148.00,483.20) scale(1.0,1.02)" class="t">10<tspan class="s" dy="-5.6" dx="0.5">3</tspan></text>
<line x1="184.50" y1="468.2" x2="184.50" y2="472.5" stroke="#000" stroke-width="1.5"/>
<text transform="translate(179.90,483.20) scale(1.0,1.02)" class="t">10<tspan class="s" dy="-5.6" dx="0.5">4</tspan></text>
<line x1="216.8" y1="346.4" x2="216.8" y2="473.0" stroke="#000" stroke-width="1.5"/>
<line x1="216.05" y1="468.7" x2="347.9" y2="468.7" stroke="#000" stroke-width="1.5"/>
<line x1="212.3" y1="468.70" x2="216.8" y2="468.70" stroke="#000" stroke-width="1.5"/>
<text transform="translate(211.90,471.60) scale(1.04,1.02)" class="t" text-anchor="end">0</text>
<line x1="212.3" y1="444.24" x2="216.8" y2="444.24" stroke="#000" stroke-width="1.5"/>
<text transform="translate(211.90,447.50) scale(1.04,1.02)" class="t" text-anchor="end">30</text>
<line x1="212.3" y1="419.78" x2="216.8" y2="419.78" stroke="#000" stroke-width="1.5"/>
<text transform="translate(200.40,423.88) scale(1.04,1.02)" class="t">6</text>
<text transform="translate(200.40,434.68) scale(1.04,1.02)" class="t">0</text>
<line x1="212.3" y1="395.32" x2="216.8" y2="395.32" stroke="#000" stroke-width="1.5"/>
<text transform="translate(211.90,399.30) scale(1.04,1.02)" class="t" text-anchor="end">90</text>
<line x1="212.3" y1="370.86" x2="216.8" y2="370.86" stroke="#000" stroke-width="1.5"/>
<text transform="translate(211.90,375.20) scale(1.04,1.02)" class="t" text-anchor="end">120</text>
<line x1="212.3" y1="346.40" x2="216.8" y2="346.40" stroke="#000" stroke-width="1.5"/>
<text transform="translate(211.90,351.10) scale(1.04,1.02)" class="t" text-anchor="end">150</text>
<line x1="216.80" y1="468.7" x2="216.80" y2="473.0" stroke="#000" stroke-width="1.5"/>
<text transform="translate(212.20,483.70) scale(1.0,1.02)" class="t">10<tspan class="s" dy="-5.6" dx="0.5">0</tspan></text>
<line x1="248.70" y1="468.7" x2="248.70" y2="473.0" stroke="#000" stroke-width="1.5"/>
<text transform="translate(244.10,483.70) scale(1.0,1.02)" class="t">10<tspan class="s" dy="-5.6" dx="0.5">1</tspan></text>
<line x1="280.60" y1="468.7" x2="280.60" y2="473.0" stroke="#000" stroke-width="1.5"/>
<text transform="translate(276.00,483.70) scale(1.0,1.02)" class="t">10<tspan class="s" dy="-5.6" dx="0.5">2</tspan></text>
<line x1="312.50" y1="468.7" x2="312.50" y2="473.0" stroke="#000" stroke-width="1.5"/>
<text transform="translate(307.90,483.70) scale(1.0,1.02)" class="t">10<tspan class="s" dy="-5.6" dx="0.5">3</tspan></text>
<line x1="344.40" y1="468.7" x2="344.40" y2="473.0" stroke="#000" stroke-width="1.5"/>
<text transform="translate(339.80,483.70) scale(1.0,1.02)" class="t">10<tspan class="s" dy="-5.6" dx="0.5">4</tspan></text>
<line x1="378.7" y1="346.3" x2="378.7" y2="473.0" stroke="#000" stroke-width="1.5"/>
<line x1="377.95" y1="468.7" x2="509.79999999999995" y2="468.7" stroke="#000" stroke-width="1.5"/>
<line x1="374.2" y1="468.70" x2="378.7" y2="468.70" stroke="#000" stroke-width="1.5"/>
<text transform="translate(373.80,471.60) scale(1.04,1.02)" class="t" text-anchor="end">0</text>
<line x1="374.2" y1="444.22" x2="378.7" y2="444.22" stroke="#000" stroke-width="1.5"/>
<text transform="translate(373.80,447.48) scale(1.04,1.02)" class="t" text-anchor="end">30</text>
<line x1="374.2" y1="419.74" x2="378.7" y2="419.74" stroke="#000" stroke-width="1.5"/>
<text transform="translate(362.30,423.84) scale(1.04,1.02)" class="t">6</text>
<text transform="translate(362.30,434.64) scale(1.04,1.02)" class="t">0</text>
<line x1="374.2" y1="395.26" x2="378.7" y2="395.26" stroke="#000" stroke-width="1.5"/>
<text transform="translate(373.80,399.24) scale(1.04,1.02)" class="t" text-anchor="end">90</text>
<line x1="374.2" y1="370.78" x2="378.7" y2="370.78" stroke="#000" stroke-width="1.5"/>
<text transform="translate(373.80,375.12) scale(1.04,1.02)" class="t" text-anchor="end">120</text>
<line x1="374.2" y1="346.30" x2="378.7" y2="346.30" stroke="#000" stroke-width="1.5"/>
<text transform="translate(373.80,351.00) scale(1.04,1.02)" class="t" text-anchor="end">150</text>
<line x1="378.70" y1="468.7" x2="378.70" y2="473.0" stroke="#000" stroke-width="1.5"/>
<text transform="translate(374.10,483.70) scale(1.0,1.02)" class="t">10<tspan class="s" dy="-5.6" dx="0.5">0</tspan></text>
<line x1="410.60" y1="468.7" x2="410.60" y2="473.0" stroke="#000" stroke-width="1.5"/>
<text transform="translate(406.00,483.70) scale(1.0,1.02)" class="t">10<tspan class="s" dy="-5.6" dx="0.5">1</tspan></text>
<line x1="442.50" y1="468.7" x2="442.50" y2="473.0" stroke="#000" stroke-width="1.5"/>
<text transform="translate(437.90,483.70) scale(1.0,1.02)" class="t">10<tspan class="s" dy="-5.6" dx="0.5">2</tspan></text>
<line x1="474.40" y1="468.7" x2="474.40" y2="473.0" stroke="#000" stroke-width="1.5"/>
<text transform="translate(469.80,483.70) scale(1.0,1.02)" class="t">10<tspan class="s" dy="-5.6" dx="0.5">3</tspan></text>
<line x1="506.30" y1="468.7" x2="506.30" y2="473.0" stroke="#000" stroke-width="1.5"/>
<text transform="translate(501.70,483.70) scale(1.0,1.02)" class="t">10<tspan class="s" dy="-5.6" dx="0.5">4</tspan></text>
<line x1="56.6" y1="499.0" x2="56.6" y2="624.9" stroke="#000" stroke-width="1.5"/>
<line x1="55.85" y1="620.6" x2="187.7" y2="620.6" stroke="#000" stroke-width="1.5"/>
<line x1="52.1" y1="620.60" x2="56.6" y2="620.60" stroke="#000" stroke-width="1.5"/>
<text transform="translate(51.70,623.50) scale(1.04,1.02)" class="t" text-anchor="end">0</text>
<line x1="52.1" y1="596.28" x2="56.6" y2="596.28" stroke="#000" stroke-width="1.5"/>
<text transform="translate(51.70,599.54) scale(1.04,1.02)" class="t" text-anchor="end">30</text>
<line x1="52.1" y1="571.96" x2="56.6" y2="571.96" stroke="#000" stroke-width="1.5"/>
<text transform="translate(51.70,575.58) scale(1.04,1.02)" class="t" text-anchor="end">60</text>
<line x1="52.1" y1="547.64" x2="56.6" y2="547.64" stroke="#000" stroke-width="1.5"/>
<text transform="translate(51.70,551.62) scale(1.04,1.02)" class="t" text-anchor="end">90</text>
<line x1="52.1" y1="523.32" x2="56.6" y2="523.32" stroke="#000" stroke-width="1.5"/>
<text transform="translate(51.70,527.66) scale(1.04,1.02)" class="t" text-anchor="end">120</text>
<line x1="52.1" y1="499.00" x2="56.6" y2="499.00" stroke="#000" stroke-width="1.5"/>
<text transform="translate(51.70,503.70) scale(1.04,1.02)" class="t" text-anchor="end">150</text>
<line x1="56.60" y1="620.6" x2="56.60" y2="624.9" stroke="#000" stroke-width="1.5"/>
<text transform="translate(52.00,635.60) scale(1.0,1.02)" class="t">10<tspan class="s" dy="-5.6" dx="0.5">0</tspan></text>
<line x1="88.50" y1="620.6" x2="88.50" y2="624.9" stroke="#000" stroke-width="1.5"/>
<text transform="translate(83.90,635.60) scale(1.0,1.02)" class="t">10<tspan class="s" dy="-5.6" dx="0.5">1</tspan></text>
<line x1="120.40" y1="620.6" x2="120.40" y2="624.9" stroke="#000" stroke-width="1.5"/>
<text transform="translate(115.80,635.60) scale(1.0,1.02)" class="t">10<tspan class="s" dy="-5.6" dx="0.5">2</tspan></text>
<line x1="152.30" y1="620.6" x2="152.30" y2="624.9" stroke="#000" stroke-width="1.5"/>
<text transform="translate(147.70,635.60) scale(1.0,1.02)" class="t">10<tspan class="s" dy="-5.6" dx="0.5">3</tspan></text>
<line x1="184.20" y1="620.6" x2="184.20" y2="624.9" stroke="#000" stroke-width="1.5"/>
<text transform="translate(179.60,635.60) scale(1.0,1.02)" class="t">10<tspan class="s" dy="-5.6" dx="0.5">4</tspan></text>
<line x1="216.7" y1="499.0" x2="216.7" y2="624.5999999999999" stroke="#000" stroke-width="1.5"/>
<line x1="215.95" y1="620.3" x2="347.79999999999995" y2="620.3" stroke="#000" stroke-width="1.5"/>
<line x1="212.2" y1="620.30" x2="216.7" y2="620.30" stroke="#000" stroke-width="1.5"/>
<text transform="translate(211.80,623.20) scale(1.04,1.02)" class="t" text-anchor="end">0</text>
<line x1="212.2" y1="596.04" x2="216.7" y2="596.04" stroke="#000" stroke-width="1.5"/>
<text transform="translate(211.80,599.30) scale(1.04,1.02)" class="t" text-anchor="end">30</text>
<line x1="212.2" y1="571.78" x2="216.7" y2="571.78" stroke="#000" stroke-width="1.5"/>
<text transform="translate(211.80,575.40) scale(1.04,1.02)" class="t" text-anchor="end">60</text>
<line x1="212.2" y1="547.52" x2="216.7" y2="547.52" stroke="#000" stroke-width="1.5"/>
<text transform="translate(211.80,551.50) scale(1.04,1.02)" class="t" text-anchor="end">90</text>
<line x1="212.2" y1="523.26" x2="216.7" y2="523.26" stroke="#000" stroke-width="1.5"/>
<text transform="translate(211.80,527.60) scale(1.04,1.02)" class="t" text-anchor="end">120</text>
<line x1="212.2" y1="499.00" x2="216.7" y2="499.00" stroke="#000" stroke-width="1.5"/>
<text transform="translate(211.80,503.70) scale(1.04,1.02)" class="t" text-anchor="end">150</text>
<line x1="216.70" y1="620.3" x2="216.70" y2="624.5999999999999" stroke="#000" stroke-width="1.5"/>
<text transform="translate(212.10,635.30) scale(1.0,1.02)" class="t">10<tspan class="s" dy="-5.6" dx="0.5">0</tspan></text>
<line x1="248.60" y1="620.3" x2="248.60" y2="624.5999999999999" stroke="#000" stroke-width="1.5"/>
<text transform="translate(244.00,635.30) scale(1.0,1.02)" class="t">10<tspan class="s" dy="-5.6" dx="0.5">1</tspan></text>
<line x1="280.50" y1="620.3" x2="280.50" y2="624.5999999999999" stroke="#000" stroke-width="1.5"/>
<text transform="translate(275.90,635.30) scale(1.0,1.02)" class="t">10<tspan class="s" dy="-5.6" dx="0.5">2</tspan></text>
<line x1="312.40" y1="620.3" x2="312.40" y2="624.5999999999999" stroke="#000" stroke-width="1.5"/>
<text transform="translate(307.80,635.30) scale(1.0,1.02)" class="t">10<tspan class="s" dy="-5.6" dx="0.5">3</tspan></text>
<line x1="344.30" y1="620.3" x2="344.30" y2="624.5999999999999" stroke="#000" stroke-width="1.5"/>
<text transform="translate(339.70,635.30) scale(1.0,1.02)" class="t">10<tspan class="s" dy="-5.6" dx="0.5">4</tspan></text>
<line x1="377.4" y1="498.8" x2="377.4" y2="623.8" stroke="#000" stroke-width="1.5"/>
<line x1="376.65" y1="619.5" x2="508.5" y2="619.5" stroke="#000" stroke-width="1.5"/>
<line x1="372.9" y1="619.50" x2="377.4" y2="619.50" stroke="#000" stroke-width="1.5"/>
<text transform="translate(372.50,622.40) scale(1.04,1.02)" class="t" text-anchor="end">0</text>
<line x1="372.9" y1="595.36" x2="377.4" y2="595.36" stroke="#000" stroke-width="1.5"/>
<text transform="translate(372.50,598.62) scale(1.04,1.02)" class="t" text-anchor="end">30</text>
<line x1="372.9" y1="571.22" x2="377.4" y2="571.22" stroke="#000" stroke-width="1.5"/>
<text transform="translate(361.00,575.32) scale(1.04,1.02)" class="t">6</text>
<text transform="translate(361.00,586.12) scale(1.04,1.02)" class="t">0</text>
<line x1="372.9" y1="547.08" x2="377.4" y2="547.08" stroke="#000" stroke-width="1.5"/>
<text transform="translate(372.50,551.06) scale(1.04,1.02)" class="t" text-anchor="end">90</text>
<line x1="372.9" y1="522.94" x2="377.4" y2="522.94" stroke="#000" stroke-width="1.5"/>
<text transform="translate(372.50,527.28) scale(1.04,1.02)" class="t" text-anchor="end">120</text>
<line x1="372.9" y1="498.80" x2="377.4" y2="498.80" stroke="#000" stroke-width="1.5"/>
<text transform="translate(372.50,503.50) scale(1.04,1.02)" class="t" text-anchor="end">150</text>
<line x1="377.40" y1="619.5" x2="377.40" y2="623.8" stroke="#000" stroke-width="1.5"/>
<text transform="translate(372.80,634.50) scale(1.0,1.02)" class="t">10<tspan class="s" dy="-5.6" dx="0.5">0</tspan></text>
<line x1="409.30" y1="619.5" x2="409.30" y2="623.8" stroke="#000" stroke-width="1.5"/>
<text transform="translate(404.70,634.50) scale(1.0,1.02)" class="t">10<tspan class="s" dy="-5.6" dx="0.5">1</tspan></text>
<line x1="441.20" y1="619.5" x2="441.20" y2="623.8" stroke="#000" stroke-width="1.5"/>
<text transform="translate(436.60,634.50) scale(1.0,1.02)" class="t">10<tspan class="s" dy="-5.6" dx="0.5">2</tspan></text>
<line x1="473.10" y1="619.5" x2="473.10" y2="623.8" stroke="#000" stroke-width="1.5"/>
<text transform="translate(468.50,634.50) scale(1.0,1.02)" class="t">10<tspan class="s" dy="-5.6" dx="0.5">3</tspan></text>
<line x1="505.00" y1="619.5" x2="505.00" y2="623.8" stroke="#000" stroke-width="1.5"/>
<text transform="translate(500.40,634.50) scale(1.0,1.02)" class="t">10<tspan class="s" dy="-5.6" dx="0.5">4</tspan></text>
<text transform="translate(1.0,18.8) scale(1.1,1.0)" style="font-size:24.5px">A</text>
<text transform="translate(-0.8,211.7) scale(1.07,1.0)" style="font-size:25px">B</text>
<text x="66.1" y="14.0" class="lab">Control</text>
<text x="101.2" y="31.0" class="lab" style="letter-spacing:0.2px">+ 4RA10</text>
<text x="118.2" y="48.8" class="lab" style="letter-spacing:0.15px">+ EDTA</text>
<text x="277.5" y="43.0" class="lab" style="letter-spacing:0.1px">CD45-IgM</text>
<text x="435" y="34.2" class="lab" style="letter-spacing:0.15px">+ OSGE</text>
<text x="106.3" y="225.1" class="lab">Control</text>
<line x1="83.2" y1="15" x2="83.86" y2="28.61" stroke="#000" stroke-width="0.8"/>
<polygon points="84.1,33.6 81.76,28.71 85.96,28.50" fill="#000"/>
<line x1="121.3" y1="32.6" x2="96.75" y2="49.11" stroke="#000" stroke-width="0.8"/>
<polygon points="92.6,51.9 95.58,47.37 97.92,50.85" fill="#000"/>
<line x1="139.4" y1="51.3" x2="95.04" y2="83.56" stroke="#000" stroke-width="0.8"/>
<polygon points="91,86.5 93.81,81.86 96.28,85.26" fill="#000"/>
<line x1="295.6" y1="43.5" x2="258.36" y2="66.47" stroke="#000" stroke-width="0.8"/>
<polygon points="254.1,69.1 257.25,64.69 259.46,68.26" fill="#000"/>
<line x1="449" y1="35.0" x2="416.18" y2="45.13" stroke="#000" stroke-width="0.8"/>
<polygon points="411.4,46.6 415.56,43.12 416.80,47.13" fill="#000"/>
<line x1="121.8" y1="226.5" x2="96.66" y2="241.89" stroke="#000" stroke-width="0.8"/>
<polygon points="92.4,244.5 95.57,240.10 97.76,243.68" fill="#000"/>
<text x="62.20" y="202.50" class="ttl">Wild-type</text>
<text x="221.40" y="202.50" class="ttl">Y13F</text>
<text x="382.60" y="202.50" class="ttl">Y15F</text>
<text x="61.60" y="352.60" class="ttl">T14A</text>
<text x="221.50" y="352.70" class="ttl">T17A</text>
<text x="382.60" y="352.60" class="ttl">Y13/15F</text>
<text x="61.30" y="505.30" class="ttl">T14/17A</text>
<text x="220.60" y="505.30" class="ttl" style="letter-spacing:0.05px">Y13/15F;T14Q/17L</text>
<text x="382.10" y="505.10" class="ttl">T27/S211A</text>
<text x="192.0" y="658.0" style="font-size:19px;letter-spacing:0.14px">P-selectin-IgM-FITC</text>
<text transform="translate(16.1,422.9) rotate(-90) scale(1,1.05)" x="0" y="0" style="font-size:19px;letter-spacing:0.12px">Relative cell number</text>
</svg>
</body></html>
